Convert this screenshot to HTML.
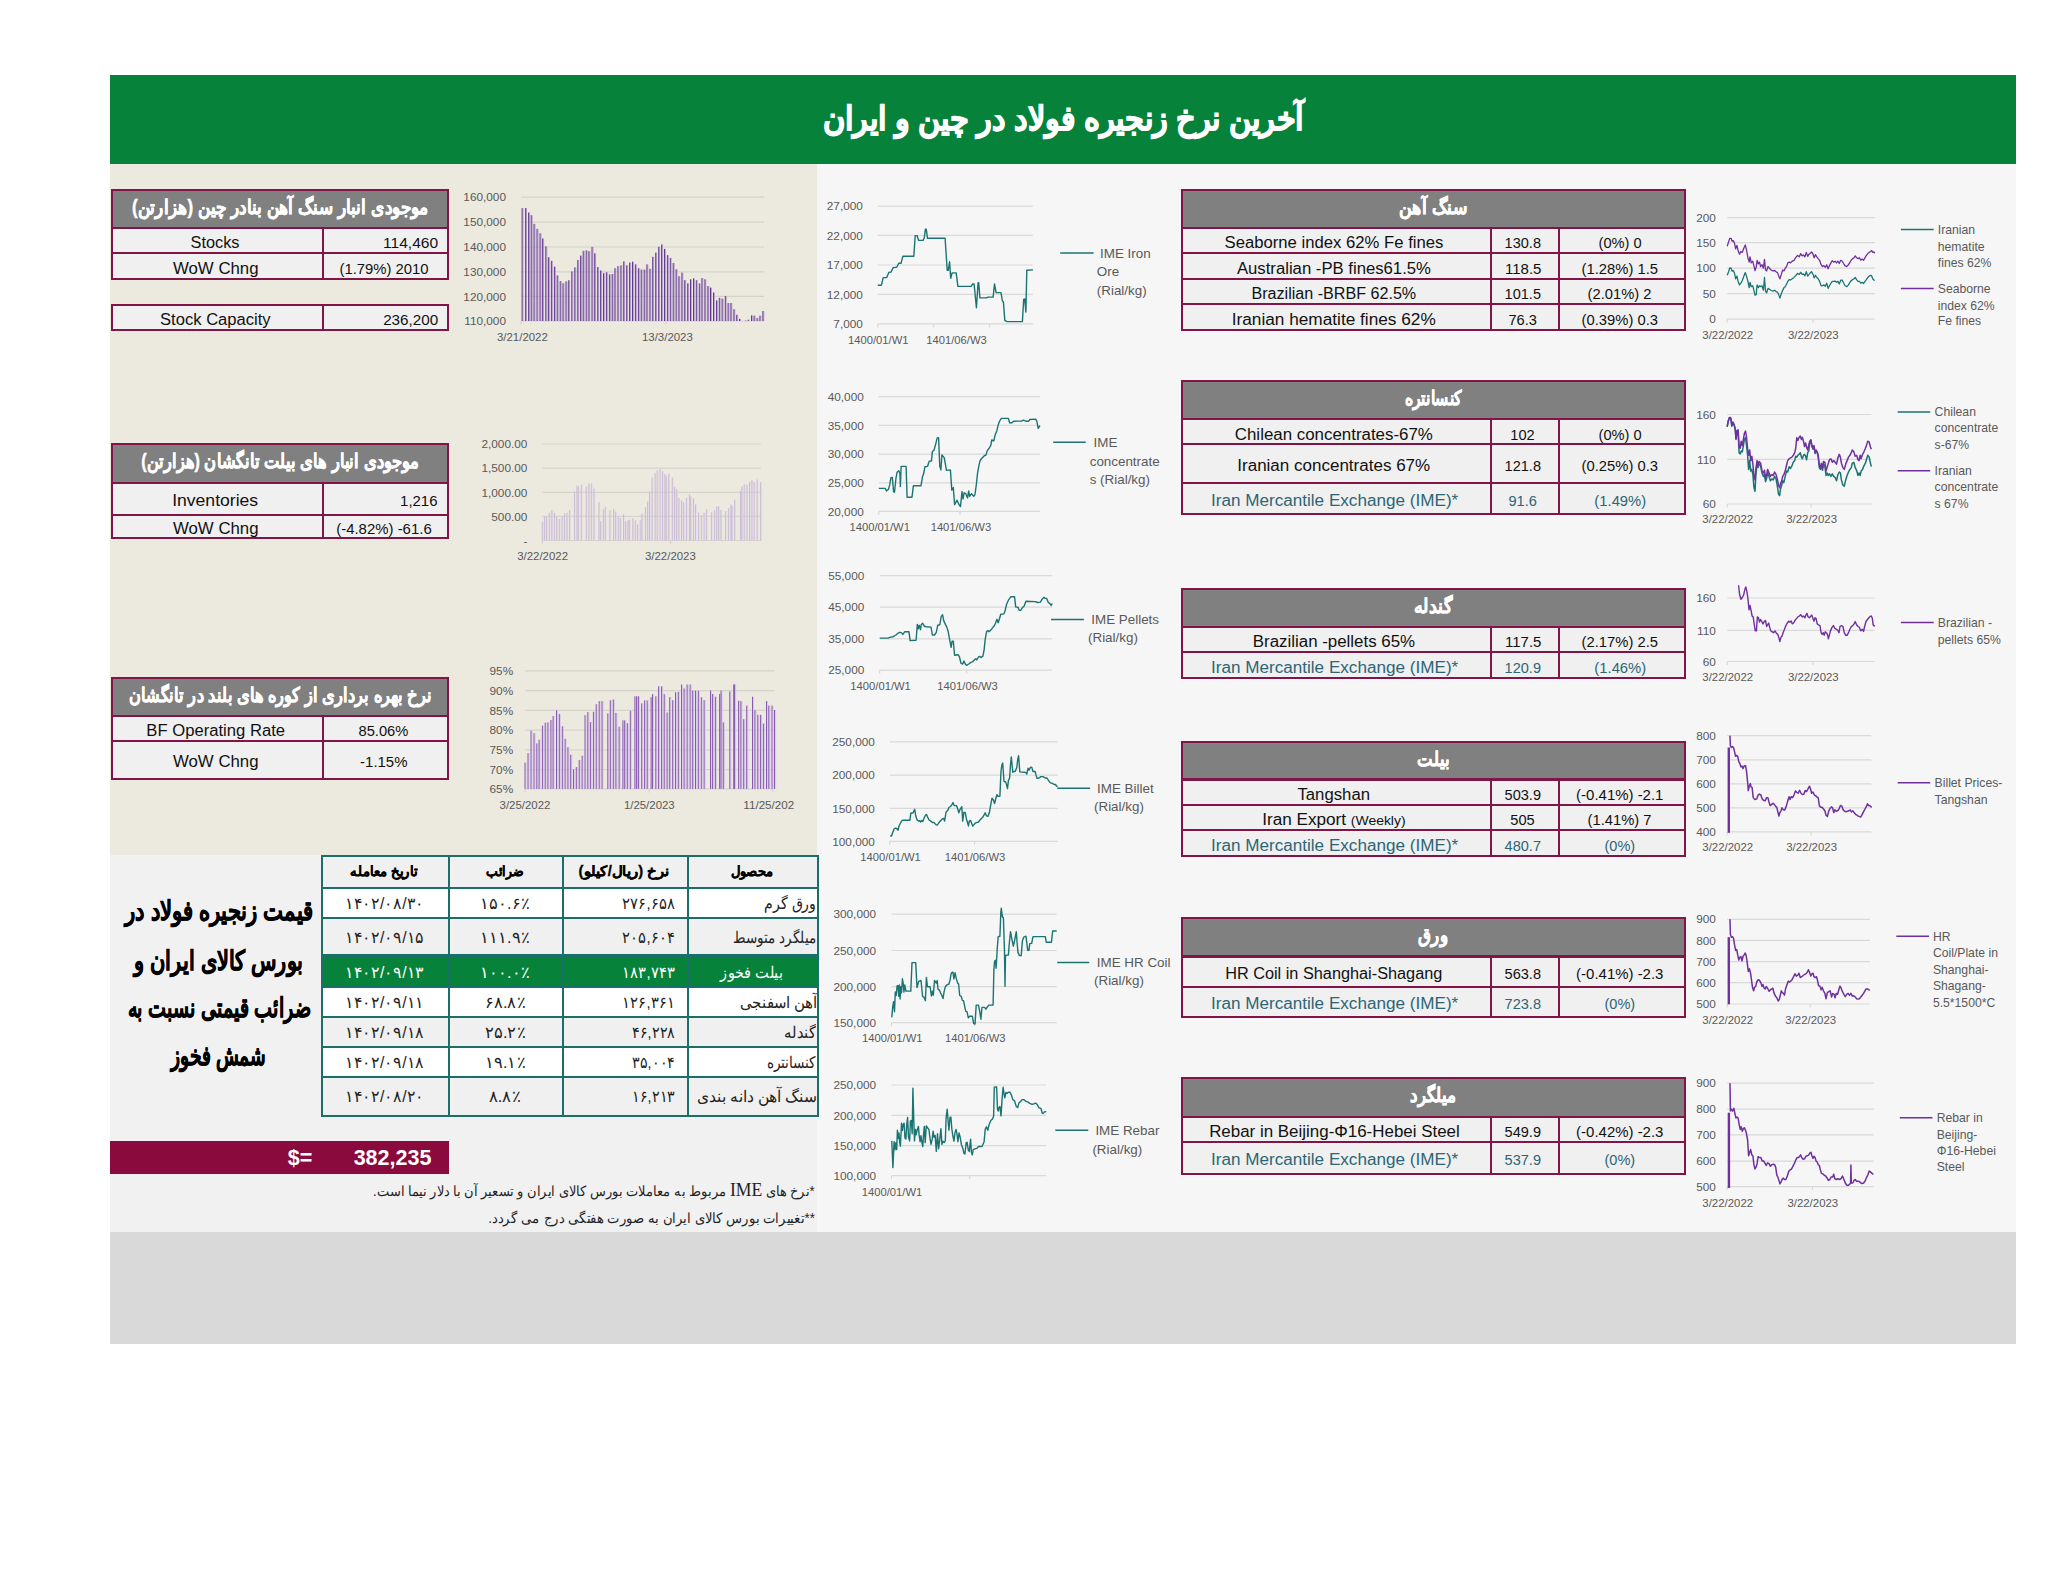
<!DOCTYPE html>
<html lang="fa"><head><meta charset="utf-8"><title>آخرین نرخ زنجیره فولاد در چین و ایران</title>
<style>
html,body{margin:0;padding:0;background:#fff;}
body{width:2048px;height:1583px;position:relative;overflow:hidden;font-family:"Liberation Sans",sans-serif;color:#111;}
#pg div{position:absolute;box-sizing:border-box;white-space:nowrap;overflow:hidden;}
#pg .c{text-align:center;font-size:16px;color:#111;padding-top:2.5px;padding-right:4px;}
#pg .r{text-align:right;font-size:16px;color:#111;padding-right:9.5px;padding-top:2.5px;}
#pg .t{color:#2d6575;}
#pg .h{text-align:center;color:#fff;font-weight:bold;font-size:20px;direction:rtl;-webkit-text-stroke:0.5px #fff;}
#pg .p{font-size:16px;direction:rtl;color:#222;padding-top:1px;}
#pg .ph{font-size:14px;font-weight:bold;direction:rtl;text-align:center;color:#000;-webkit-text-stroke:0.3px #000;padding-right:3px;}
#pg .w{color:#fff;}
svg{position:absolute;left:0;top:0;}
svg text{font-family:"Liberation Sans",sans-serif;font-size:11.8px;fill:#595959;}
svg text.lg{font-size:12.2px;}
svg text.lm{font-size:13.4px;}
</style></head><body><div id="pg">
<div style="left:110px;top:164px;width:707px;height:691px;background:#ece9df;"></div>
<div style="left:110px;top:855px;width:707px;height:377px;background:#f1f1f1;"></div>
<div style="left:817px;top:164px;width:1199px;height:1068px;background:#f6f6f6;"></div>
<div style="left:110px;top:1232px;width:1906px;height:112px;background:#d9d9d9;"></div>
<div style="left:110px;top:75px;width:1906px;height:89px;background:#06823a;"></div>
<div id="title" style="left:110px;top:75px;width:1906px;height:89px;line-height:87px;text-align:center;color:#fff;font-weight:bold;font-size:33px;-webkit-text-stroke:1.1px #fff;direction:rtl;"><span style="display:inline-block;transform-origin:center;--w:480.5;transform:scaleX(0.7775);">آخرین نرخ زنجیره فولاد در چین و ایران</span></div>
<div class="b" style="left:110.9px;top:188.6px;width:338.5px;height:91.5px;background:#821548;"></div>
<div class="h" style="left:112.9px;top:190.6px;width:334.5px;height:36.3px;line-height:33.3px;background:#808080;"><span style="display:inline-block;transform-origin:center;--w:296.5;margin:0 -70px;transform:scaleX(0.7110);">موجودی انبار سنگ آهن بنادر چین (هزارتن)</span></div>
<div class="c" style="left:112.9px;top:228.9px;width:208.9px;height:23.4px;line-height:23.4px;background:#f0f0f0;"><span style="display:inline-block;transform-origin:center;--w:49;transform:scaleX(1.0208);">Stocks</span></div>
<div class="r" style="left:323.8px;top:228.9px;width:123.6px;height:23.4px;line-height:23.4px;background:#f0f0f0;"><span style="display:inline-block;transform-origin:right;--w:55.1;font-size:15px;transform:scaleX(1.0804);">114,460</span></div>
<div class="c" style="left:112.9px;top:254.3px;width:208.9px;height:23.8px;line-height:23.8px;background:#f0f0f0;"><span style="display:inline-block;transform-origin:center;--w:85.6;transform:scaleX(1.0439);">WoW Chng</span></div>
<div class="c" style="left:323.8px;top:254.3px;width:123.6px;height:23.8px;line-height:23.8px;background:#f0f0f0;"><span style="display:inline-block;transform-origin:center;--w:89.1;font-size:15px;transform:scaleX(1.0241);">(1.79%) 2010</span></div>
<div class="b" style="left:110.9px;top:303.8px;width:338.5px;height:27.5px;background:#821548;"></div>
<div class="c" style="left:112.9px;top:305.8px;width:208.9px;height:23.5px;line-height:23.5px;background:#f0f0f0;"><span style="display:inline-block;transform-origin:center;--w:110.6;transform:scaleX(1.0336);">Stock Capacity</span></div>
<div class="r" style="left:323.8px;top:305.8px;width:123.6px;height:23.5px;line-height:23.5px;background:#f0f0f0;"><span style="display:inline-block;transform-origin:right;--w:55.1;font-size:15px;transform:scaleX(1.0596);">236,200</span></div>
<div class="b" style="left:110.9px;top:443.3px;width:338.5px;height:95.6px;background:#821548;"></div>
<div class="h" style="left:112.9px;top:445.3px;width:334.5px;height:36.4px;line-height:33.4px;background:#808080;"><span style="display:inline-block;transform-origin:center;--w:277.5;margin:0 -70px;transform:scaleX(0.6869);">موجودی انبار های بیلت تانگشان (هزارتن)</span></div>
<div class="c" style="left:112.9px;top:483.7px;width:208.9px;height:30px;line-height:30px;background:#f0f0f0;"><span style="display:inline-block;transform-origin:center;--w:86;transform:scaleX(1.1026);">Inventories</span></div>
<div class="r" style="left:323.8px;top:483.7px;width:123.6px;height:30px;line-height:30px;background:#f0f0f0;"><span style="display:inline-block;transform-origin:right;--w:37.5;font-size:15px;transform:scaleX(1.0417);">1,216</span></div>
<div class="c" style="left:112.9px;top:515.7px;width:208.9px;height:21.2px;line-height:21.2px;background:#f0f0f0;"><span style="display:inline-block;transform-origin:center;--w:85.6;transform:scaleX(1.0439);">WoW Chng</span></div>
<div class="c" style="left:323.8px;top:515.7px;width:123.6px;height:21.2px;line-height:21.2px;background:#f0f0f0;"><span style="display:inline-block;transform-origin:center;--w:95.5;font-size:15px;transform:scaleX(1.0269);">(-4.82%) -61.6</span></div>
<div class="b" style="left:110.9px;top:677.3px;width:338.5px;height:103px;background:#821548;"></div>
<div class="h" style="left:112.9px;top:679.3px;width:334.5px;height:35.8px;line-height:32.8px;background:#808080;"><span style="display:inline-block;transform-origin:center;--w:302.3;margin:0 -70px;transform:scaleX(0.6855);">نرخ بهره برداری از کوره های بلند در تانگشان</span></div>
<div class="c" style="left:112.9px;top:717.1px;width:208.9px;height:22.7px;line-height:22.7px;background:#f0f0f0;"><span style="display:inline-block;transform-origin:center;--w:138.8;transform:scaleX(1.0436);">BF Operating Rate</span></div>
<div class="c" style="left:323.8px;top:717.1px;width:123.6px;height:22.7px;line-height:22.7px;background:#f0f0f0;"><span style="display:inline-block;transform-origin:center;--w:49.9;font-size:15px;transform:scaleX(1.0184);">85.06%</span></div>
<div class="c" style="left:112.9px;top:741.8px;width:208.9px;height:36.5px;line-height:36.5px;background:#f0f0f0;"><span style="display:inline-block;transform-origin:center;--w:85.6;transform:scaleX(1.0439);">WoW Chng</span></div>
<div class="c" style="left:323.8px;top:741.8px;width:123.6px;height:36.5px;line-height:36.5px;background:#f0f0f0;"><span style="display:inline-block;transform-origin:center;--w:47.3;font-size:15px;transform:scaleX(1.0283);">-1.15%</span></div>
<div class="b" style="left:1180.7px;top:189px;width:505.2px;height:141.7px;background:#821548;"></div>
<div class="h" style="left:1182.7px;top:191px;width:501.2px;height:36.3px;line-height:33.3px;background:#808080;"><span style="display:inline-block;transform-origin:center;--w:67.9;transform:scaleX(0.7301);">سنگ آهن</span></div>
<div class="c" style="left:1182.7px;top:229.3px;width:307px;height:22.9px;line-height:22.9px;background:#f0f0f0;"><span style="display:inline-block;transform-origin:center;--w:218.8;transform:scaleX(1.0419);">Seaborne index 62% Fe fines</span></div>
<div class="c" style="left:1491.7px;top:229.3px;width:66.1px;height:22.9px;line-height:22.9px;background:#f0f0f0;"><span style="display:inline-block;transform-origin:center;--w:36.4;font-size:15px;transform:scaleX(1.0111);">130.8</span></div>
<div class="c" style="left:1559.8px;top:229.3px;width:124.1px;height:22.9px;line-height:22.9px;background:#f0f0f0;"><span style="display:inline-block;transform-origin:center;--w:43;font-size:15px;transform:scaleX(1.0000);">(0%) 0</span></div>
<div class="c" style="left:1182.7px;top:254.2px;width:307px;height:23.7px;line-height:23.7px;background:#f0f0f0;"><span style="display:inline-block;transform-origin:center;--w:194;transform:scaleX(1.0430);">Australian -PB fines61.5%</span></div>
<div class="c" style="left:1491.7px;top:254.2px;width:66.1px;height:23.7px;line-height:23.7px;background:#f0f0f0;"><span style="display:inline-block;transform-origin:center;--w:36.4;font-size:15px;transform:scaleX(1.0400);">118.5</span></div>
<div class="c" style="left:1559.8px;top:254.2px;width:124.1px;height:23.7px;line-height:23.7px;background:#f0f0f0;"><span style="display:inline-block;transform-origin:center;--w:76.4;font-size:15px;transform:scaleX(1.0187);">(1.28%) 1.5</span></div>
<div class="c" style="left:1182.7px;top:279.9px;width:307px;height:23.4px;line-height:23.4px;background:#f0f0f0;"><span style="display:inline-block;transform-origin:center;--w:164.7;transform:scaleX(0.9982);">Brazilian -BRBF 62.5%</span></div>
<div class="c" style="left:1491.7px;top:279.9px;width:66.1px;height:23.4px;line-height:23.4px;background:#f0f0f0;"><span style="display:inline-block;transform-origin:center;--w:36.4;font-size:15px;transform:scaleX(1.0111);">101.5</span></div>
<div class="c" style="left:1559.8px;top:279.9px;width:124.1px;height:23.4px;line-height:23.4px;background:#f0f0f0;"><span style="display:inline-block;transform-origin:center;--w:63.8;font-size:15px;transform:scaleX(1.0127);">(2.01%) 2</span></div>
<div class="c" style="left:1182.7px;top:305.3px;width:307px;height:23.4px;line-height:23.4px;background:#f0f0f0;"><span style="display:inline-block;transform-origin:center;--w:204.1;transform:scaleX(1.0856);">Iranian hematite fines 62%</span></div>
<div class="c" style="left:1491.7px;top:305.3px;width:66.1px;height:23.4px;line-height:23.4px;background:#f0f0f0;"><span style="display:inline-block;transform-origin:center;--w:28.4;font-size:15px;transform:scaleX(1.0125);">76.3</span></div>
<div class="c" style="left:1559.8px;top:305.3px;width:124.1px;height:23.4px;line-height:23.4px;background:#f0f0f0;"><span style="display:inline-block;transform-origin:center;--w:76.4;font-size:15px;transform:scaleX(1.0187);">(0.39%) 0.3</span></div>
<div class="b" style="left:1180.7px;top:380.4px;width:505.2px;height:134.9px;background:#821548;"></div>
<div class="h" style="left:1182.7px;top:382.4px;width:501.2px;height:35.7px;line-height:32.7px;background:#808080;"><span style="display:inline-block;transform-origin:center;--w:57.3;transform:scaleX(0.6511);">کنسانتره</span></div>
<div class="c" style="left:1182.7px;top:420.1px;width:307px;height:23.2px;line-height:23.2px;background:#f0f0f0;"><span style="display:inline-block;transform-origin:center;--w:198.1;transform:scaleX(1.0537);">Chilean concentrates-67%</span></div>
<div class="c" style="left:1491.7px;top:420.1px;width:66.1px;height:23.2px;line-height:23.2px;background:#f0f0f0;"><span style="display:inline-block;transform-origin:center;--w:24.4;font-size:15px;transform:scaleX(1.0146);">102</span></div>
<div class="c" style="left:1559.8px;top:420.1px;width:124.1px;height:23.2px;line-height:23.2px;background:#f0f0f0;"><span style="display:inline-block;transform-origin:center;--w:43;font-size:15px;transform:scaleX(1.0000);">(0%) 0</span></div>
<div class="c" style="left:1182.7px;top:445.3px;width:307px;height:36.3px;line-height:36.3px;background:#f0f0f0;"><span style="display:inline-block;transform-origin:center;--w:192.9;transform:scaleX(1.0717);">Iranian concentrates 67%</span></div>
<div class="c" style="left:1491.7px;top:445.3px;width:66.1px;height:36.3px;line-height:36.3px;background:#f0f0f0;"><span style="display:inline-block;transform-origin:center;--w:36.4;font-size:15px;transform:scaleX(1.0111);">121.8</span></div>
<div class="c" style="left:1559.8px;top:445.3px;width:124.1px;height:36.3px;line-height:36.3px;background:#f0f0f0;"><span style="display:inline-block;transform-origin:center;--w:76.4;font-size:15px;transform:scaleX(1.0187);">(0.25%) 0.3</span></div>
<div class="c t" style="left:1182.7px;top:483.6px;width:307px;height:29.7px;line-height:29.7px;background:#f0f0f0;"><span style="display:inline-block;transform-origin:center;--w:247.3;transform:scaleX(1.0799);">Iran Mercantile Exchange (IME)*</span></div>
<div class="c t" style="left:1491.7px;top:483.6px;width:66.1px;height:29.7px;line-height:29.7px;background:#f0f0f0;"><span style="display:inline-block;transform-origin:center;--w:28.4;font-size:15px;transform:scaleX(1.0125);">91.6</span></div>
<div class="c t" style="left:1559.8px;top:483.6px;width:124.1px;height:29.7px;line-height:29.7px;background:#f0f0f0;"><span style="display:inline-block;transform-origin:center;--w:51.8;font-size:15px;transform:scaleX(1.0157);">(1.49%)</span></div>
<div class="b" style="left:1180.7px;top:587.9px;width:505.2px;height:90.9px;background:#821548;"></div>
<div class="h" style="left:1182.7px;top:589.9px;width:501.2px;height:36px;line-height:33px;background:#808080;"><span style="display:inline-block;transform-origin:center;--w:38.9;transform:scaleX(0.7481);">گندله</span></div>
<div class="c" style="left:1182.7px;top:627.9px;width:307px;height:23.4px;line-height:23.4px;background:#f0f0f0;"><span style="display:inline-block;transform-origin:center;--w:162.2;transform:scaleX(1.0465);">Brazilian -pellets 65%</span></div>
<div class="c" style="left:1491.7px;top:627.9px;width:66.1px;height:23.4px;line-height:23.4px;background:#f0f0f0;"><span style="display:inline-block;transform-origin:center;--w:36.4;font-size:15px;transform:scaleX(1.0400);">117.5</span></div>
<div class="c" style="left:1559.8px;top:627.9px;width:124.1px;height:23.4px;line-height:23.4px;background:#f0f0f0;"><span style="display:inline-block;transform-origin:center;--w:76.4;font-size:15px;transform:scaleX(1.0187);">(2.17%) 2.5</span></div>
<div class="c t" style="left:1182.7px;top:653.3px;width:307px;height:23.5px;line-height:23.5px;background:#f0f0f0;"><span style="display:inline-block;transform-origin:center;--w:247.3;transform:scaleX(1.0799);">Iran Mercantile Exchange (IME)*</span></div>
<div class="c t" style="left:1491.7px;top:653.3px;width:66.1px;height:23.5px;line-height:23.5px;background:#f0f0f0;"><span style="display:inline-block;transform-origin:center;--w:36.4;font-size:15px;transform:scaleX(1.0111);">120.9</span></div>
<div class="c t" style="left:1559.8px;top:653.3px;width:124.1px;height:23.5px;line-height:23.5px;background:#f0f0f0;"><span style="display:inline-block;transform-origin:center;--w:51.8;font-size:15px;transform:scaleX(1.0157);">(1.46%)</span></div>
<div class="b" style="left:1180.7px;top:740.8px;width:505.2px;height:116.3px;background:#821548;"></div>
<div class="h" style="left:1182.7px;top:742.8px;width:501.2px;height:35.7px;line-height:32.7px;background:#808080;"><span style="display:inline-block;transform-origin:center;--w:32.1;transform:scaleX(0.7133);">بیلت</span></div>
<div class="c" style="left:1182.7px;top:780.5px;width:307px;height:23.4px;line-height:23.4px;background:#f0f0f0;"><span style="display:inline-block;transform-origin:center;--w:72.6;transform:scaleX(1.0371);">Tangshan</span></div>
<div class="c" style="left:1491.7px;top:780.5px;width:66.1px;height:23.4px;line-height:23.4px;background:#f0f0f0;"><span style="display:inline-block;transform-origin:center;--w:36.4;font-size:15px;transform:scaleX(1.0111);">503.9</span></div>
<div class="c" style="left:1559.8px;top:780.5px;width:124.1px;height:23.4px;line-height:23.4px;background:#f0f0f0;"><span style="display:inline-block;transform-origin:center;--w:87.3;font-size:15px;transform:scaleX(1.0271);">(-0.41%) -2.1</span></div>
<div class="c" style="left:1182.7px;top:805.9px;width:307px;height:23.4px;line-height:23.4px;background:#f0f0f0;"><span style="display:inline-block;transform-origin:center;--w:143.4;transform:scaleX(1.0864);">Iran Export <span style="font-size:13px">(Weekly)</span></span></div>
<div class="c" style="left:1491.7px;top:805.9px;width:66.1px;height:23.4px;line-height:23.4px;background:#f0f0f0;"><span style="display:inline-block;transform-origin:center;--w:24.4;font-size:15px;transform:scaleX(1.0146);">505</span></div>
<div class="c" style="left:1559.8px;top:805.9px;width:124.1px;height:23.4px;line-height:23.4px;background:#f0f0f0;"><span style="display:inline-block;transform-origin:center;--w:63.8;font-size:15px;transform:scaleX(1.0127);">(1.41%) 7</span></div>
<div class="c t" style="left:1182.7px;top:831.3px;width:307px;height:23.8px;line-height:23.8px;background:#f0f0f0;"><span style="display:inline-block;transform-origin:center;--w:247.3;transform:scaleX(1.0799);">Iran Mercantile Exchange (IME)*</span></div>
<div class="c t" style="left:1491.7px;top:831.3px;width:66.1px;height:23.8px;line-height:23.8px;background:#f0f0f0;"><span style="display:inline-block;transform-origin:center;--w:36.4;font-size:15px;transform:scaleX(1.0111);">480.7</span></div>
<div class="c t" style="left:1559.8px;top:831.3px;width:124.1px;height:23.8px;line-height:23.8px;background:#f0f0f0;"><span style="display:inline-block;transform-origin:center;--w:30.7;font-size:15px;transform:scaleX(0.9903);">(0%)</span></div>
<div class="b" style="left:1180.7px;top:917.2px;width:505.2px;height:101.3px;background:#821548;"></div>
<div class="h" style="left:1182.7px;top:919.2px;width:501.2px;height:36.3px;line-height:33.3px;background:#808080;"><span style="display:inline-block;transform-origin:center;--w:30.2;transform:scaleX(0.7190);">ورق</span></div>
<div class="c" style="left:1182.7px;top:957.5px;width:307px;height:28.3px;line-height:28.3px;background:#f0f0f0;"><span style="display:inline-block;transform-origin:center;--w:217.2;transform:scaleX(1.0009);">HR Coil in Shanghai-Shagang</span></div>
<div class="c" style="left:1491.7px;top:957.5px;width:66.1px;height:28.3px;line-height:28.3px;background:#f0f0f0;"><span style="display:inline-block;transform-origin:center;--w:36.4;font-size:15px;transform:scaleX(1.0111);">563.8</span></div>
<div class="c" style="left:1559.8px;top:957.5px;width:124.1px;height:28.3px;line-height:28.3px;background:#f0f0f0;"><span style="display:inline-block;transform-origin:center;--w:87.3;font-size:15px;transform:scaleX(1.0271);">(-0.41%) -2.3</span></div>
<div class="c t" style="left:1182.7px;top:987.8px;width:307px;height:28.7px;line-height:28.7px;background:#f0f0f0;"><span style="display:inline-block;transform-origin:center;--w:247.3;transform:scaleX(1.0799);">Iran Mercantile Exchange (IME)*</span></div>
<div class="c t" style="left:1491.7px;top:987.8px;width:66.1px;height:28.7px;line-height:28.7px;background:#f0f0f0;"><span style="display:inline-block;transform-origin:center;--w:36.4;font-size:15px;transform:scaleX(1.0111);">723.8</span></div>
<div class="c t" style="left:1559.8px;top:987.8px;width:124.1px;height:28.7px;line-height:28.7px;background:#f0f0f0;"><span style="display:inline-block;transform-origin:center;--w:30.7;font-size:15px;transform:scaleX(0.9903);">(0%)</span></div>
<div class="b" style="left:1180.7px;top:1077.4px;width:505.2px;height:97.5px;background:#821548;"></div>
<div class="h" style="left:1182.7px;top:1079.4px;width:501.2px;height:36.3px;line-height:33.3px;background:#808080;"><span style="display:inline-block;transform-origin:center;--w:46.1;transform:scaleX(0.7435);">میلگرد</span></div>
<div class="c" style="left:1182.7px;top:1117.7px;width:307px;height:23.2px;line-height:23.2px;background:#f0f0f0;"><span style="display:inline-block;transform-origin:center;--w:250.6;transform:scaleX(1.0442);">Rebar in Beijing-Φ16-Hebei Steel</span></div>
<div class="c" style="left:1491.7px;top:1117.7px;width:66.1px;height:23.2px;line-height:23.2px;background:#f0f0f0;"><span style="display:inline-block;transform-origin:center;--w:36.4;font-size:15px;transform:scaleX(1.0111);">549.9</span></div>
<div class="c" style="left:1559.8px;top:1117.7px;width:124.1px;height:23.2px;line-height:23.2px;background:#f0f0f0;"><span style="display:inline-block;transform-origin:center;--w:87.3;font-size:15px;transform:scaleX(1.0271);">(-0.42%) -2.3</span></div>
<div class="c t" style="left:1182.7px;top:1142.9px;width:307px;height:30px;line-height:30px;background:#f0f0f0;"><span style="display:inline-block;transform-origin:center;--w:247.3;transform:scaleX(1.0799);">Iran Mercantile Exchange (IME)*</span></div>
<div class="c t" style="left:1491.7px;top:1142.9px;width:66.1px;height:30px;line-height:30px;background:#f0f0f0;"><span style="display:inline-block;transform-origin:center;--w:36.4;font-size:15px;transform:scaleX(1.0111);">537.9</span></div>
<div class="c t" style="left:1559.8px;top:1142.9px;width:124.1px;height:30px;line-height:30px;background:#f0f0f0;"><span style="display:inline-block;transform-origin:center;--w:30.7;font-size:15px;transform:scaleX(0.9903);">(0%)</span></div>
<div class="b" style="left:321.3px;top:854.9px;width:497.5px;height:262.3px;background:#1b6f6a;"></div>
<div class="ph" style="left:323.3px;top:856.9px;width:124.5px;height:29.8px;line-height:29.8px;background:#f0f0f0;"><span style="display:inline-block;transform-origin:center;--w:67;transform:scaleX(0.8171);">تاریخ معامله</span></div>
<div class="ph" style="left:449.8px;top:856.9px;width:112.5px;height:29.8px;line-height:29.8px;background:#f0f0f0;"><span style="display:inline-block;transform-origin:center;--w:37.3;transform:scaleX(0.7771);">ضرائب</span></div>
<div class="ph" style="left:564.3px;top:856.9px;width:123px;height:29.8px;line-height:29.8px;background:#f0f0f0;"><span style="display:inline-block;transform-origin:center;--w:90.9;transform:scaleX(0.9000);">نرخ (ریال/کیلو)</span></div>
<div class="ph" style="left:689.3px;top:856.9px;width:127.5px;height:29.8px;line-height:29.8px;background:#f0f0f0;"><span style="display:inline-block;transform-origin:center;--w:42.9;transform:scaleX(0.7944);">محصول</span></div>
<div class="p" style="left:323.3px;top:888.7px;width:124.5px;height:28.2px;line-height:28.2px;background:#ffffff;text-align:center;padding-right:3px;"><span style="display:inline-block;transform-origin:center;--w:79.5;transform:scaleX(0.9938);">۱۴۰۲/۰۸/۳۰</span></div>
<div class="p" style="left:449.8px;top:888.7px;width:112.5px;height:28.2px;line-height:28.2px;background:#ffffff;text-align:center;padding-right:2px;"><span style="display:inline-block;transform-origin:center;--w:50.2;transform:scaleX(1.0245);">۱۵۰.۶٪</span></div>
<div class="p" style="left:564.3px;top:888.7px;width:123px;height:28.2px;line-height:28.2px;background:#ffffff;text-align:right;padding-right:12px;"><span style="display:inline-block;transform-origin:right;--w:53.8;transform:scaleX(0.9276);">۲۷۶,۶۵۸</span></div>
<div class="p" style="left:689.3px;top:888.7px;width:127.5px;height:28.2px;line-height:28.2px;background:#ffffff;text-align:right;padding-right:0.5px;"><span style="display:inline-block;transform-origin:right;--w:52.5;transform:scaleX(0.8898);">ورق گرم</span></div>
<div class="p" style="left:323.3px;top:918.9px;width:124.5px;height:35.6px;line-height:35.6px;background:#f0f0f0;text-align:center;padding-right:3px;"><span style="display:inline-block;transform-origin:center;--w:79.5;transform:scaleX(0.9938);">۱۴۰۲/۰۹/۱۵</span></div>
<div class="p" style="left:449.8px;top:918.9px;width:112.5px;height:35.6px;line-height:35.6px;background:#f0f0f0;text-align:center;padding-right:2px;"><span style="display:inline-block;transform-origin:center;--w:50.2;transform:scaleX(1.0245);">۱۱۱.۹٪</span></div>
<div class="p" style="left:564.3px;top:918.9px;width:123px;height:35.6px;line-height:35.6px;background:#f0f0f0;text-align:right;padding-right:12px;"><span style="display:inline-block;transform-origin:right;--w:53.8;transform:scaleX(0.9276);">۲۰۵,۶۰۴</span></div>
<div class="p" style="left:689.3px;top:918.9px;width:127.5px;height:35.6px;line-height:35.6px;background:#f0f0f0;text-align:right;padding-right:0.5px;"><span style="display:inline-block;transform-origin:right;--w:83;transform:scaleX(0.8469);">میلگرد متوسط</span></div>
<div class="p w" style="left:323.3px;top:956.5px;width:124.5px;height:29.7px;line-height:29.7px;background:#06823a;text-align:center;padding-right:3px;"><span style="display:inline-block;transform-origin:center;--w:79.5;transform:scaleX(0.9938);">۱۴۰۲/۰۹/۱۳</span></div>
<div class="p w" style="left:449.8px;top:956.5px;width:112.5px;height:29.7px;line-height:29.7px;background:#06823a;text-align:center;padding-right:2px;"><span style="display:inline-block;transform-origin:center;--w:50.2;transform:scaleX(1.0245);">۱۰۰.۰٪</span></div>
<div class="p w" style="left:564.3px;top:956.5px;width:123px;height:29.7px;line-height:29.7px;background:#06823a;text-align:right;padding-right:12px;"><span style="display:inline-block;transform-origin:right;--w:53.8;transform:scaleX(0.9276);">۱۸۳,۷۴۳</span></div>
<div class="p w" style="left:689.3px;top:956.5px;width:127.5px;height:29.7px;line-height:29.7px;background:#06823a;text-align:center;padding-right:4px;"><span style="display:inline-block;transform-origin:center;--w:61.9;transform:scaleX(0.9103);">بیلت فخوز</span></div>
<div class="p" style="left:323.3px;top:988.2px;width:124.5px;height:27.7px;line-height:27.7px;background:#ffffff;text-align:center;padding-right:3px;"><span style="display:inline-block;transform-origin:center;--w:79.5;transform:scaleX(0.9938);">۱۴۰۲/۰۹/۱۱</span></div>
<div class="p" style="left:449.8px;top:988.2px;width:112.5px;height:27.7px;line-height:27.7px;background:#ffffff;text-align:center;padding-right:2px;"><span style="display:inline-block;transform-origin:center;--w:41.2;transform:scaleX(1.0300);">۶۸.۸٪</span></div>
<div class="p" style="left:564.3px;top:988.2px;width:123px;height:27.7px;line-height:27.7px;background:#ffffff;text-align:right;padding-right:12px;"><span style="display:inline-block;transform-origin:right;--w:53.8;transform:scaleX(0.9276);">۱۲۶,۳۶۱</span></div>
<div class="p" style="left:689.3px;top:988.2px;width:127.5px;height:27.7px;line-height:27.7px;background:#ffffff;text-align:right;padding-right:0.5px;"><span style="display:inline-block;transform-origin:right;--w:76.1;transform:scaleX(0.9395);">آهن اسفنجی</span></div>
<div class="p" style="left:323.3px;top:1017.9px;width:124.5px;height:28.5px;line-height:28.5px;background:#f0f0f0;text-align:center;padding-right:3px;"><span style="display:inline-block;transform-origin:center;--w:79.5;transform:scaleX(0.9938);">۱۴۰۲/۰۹/۱۸</span></div>
<div class="p" style="left:449.8px;top:1017.9px;width:112.5px;height:28.5px;line-height:28.5px;background:#f0f0f0;text-align:center;padding-right:2px;"><span style="display:inline-block;transform-origin:center;--w:41.2;transform:scaleX(1.0300);">۲۵.۲٪</span></div>
<div class="p" style="left:564.3px;top:1017.9px;width:123px;height:28.5px;line-height:28.5px;background:#f0f0f0;text-align:right;padding-right:12px;"><span style="display:inline-block;transform-origin:right;--w:43.8;transform:scaleX(0.8939);">۴۶,۲۲۸</span></div>
<div class="p" style="left:689.3px;top:1017.9px;width:127.5px;height:28.5px;line-height:28.5px;background:#f0f0f0;text-align:right;padding-right:0.5px;"><span style="display:inline-block;transform-origin:right;--w:32.1;transform:scaleX(0.9171);">گندله</span></div>
<div class="p" style="left:323.3px;top:1048.4px;width:124.5px;height:27.9px;line-height:27.9px;background:#ffffff;text-align:center;padding-right:3px;"><span style="display:inline-block;transform-origin:center;--w:79.5;transform:scaleX(0.9938);">۱۴۰۲/۰۹/۱۸</span></div>
<div class="p" style="left:449.8px;top:1048.4px;width:112.5px;height:27.9px;line-height:27.9px;background:#ffffff;text-align:center;padding-right:2px;"><span style="display:inline-block;transform-origin:center;--w:41.2;transform:scaleX(1.0300);">۱۹.۱٪</span></div>
<div class="p" style="left:564.3px;top:1048.4px;width:123px;height:27.9px;line-height:27.9px;background:#ffffff;text-align:right;padding-right:12px;"><span style="display:inline-block;transform-origin:right;--w:43.8;transform:scaleX(0.8939);">۳۵,۰۰۴</span></div>
<div class="p" style="left:689.3px;top:1048.4px;width:127.5px;height:27.9px;line-height:27.9px;background:#ffffff;text-align:right;padding-right:0.5px;"><span style="display:inline-block;transform-origin:right;--w:49.2;transform:scaleX(0.8483);">کنسانتره</span></div>
<div class="p" style="left:323.3px;top:1078.3px;width:124.5px;height:36.9px;line-height:36.9px;background:#f0f0f0;text-align:center;padding-right:3px;"><span style="display:inline-block;transform-origin:center;--w:79.5;transform:scaleX(0.9938);">۱۴۰۲/۰۸/۲۰</span></div>
<div class="p" style="left:449.8px;top:1078.3px;width:112.5px;height:36.9px;line-height:36.9px;background:#f0f0f0;text-align:center;padding-right:2px;"><span style="display:inline-block;transform-origin:center;--w:32.4;transform:scaleX(1.0452);">۸.۸٪</span></div>
<div class="p" style="left:564.3px;top:1078.3px;width:123px;height:36.9px;line-height:36.9px;background:#f0f0f0;text-align:right;padding-right:12px;"><span style="display:inline-block;transform-origin:right;--w:43.8;transform:scaleX(0.8939);">۱۶,۲۱۳</span></div>
<div class="p" style="left:689.3px;top:1078.3px;width:127.5px;height:36.9px;line-height:36.9px;background:#f0f0f0;text-align:right;padding-right:0.5px;"><span style="display:inline-block;transform-origin:right;--w:119.7;transform:scaleX(0.9811);">سنگ آهن دانه بندی</span></div>
<div class="big" style="left:115px;top:885.8px;width:208px;height:52px;line-height:50px;text-align:center;direction:rtl;font-weight:bold;font-size:27px;-webkit-text-stroke:0.6px #000;color:#000;"><span style="display:inline-block;transform-origin:center;--w:188.3;margin:0 -70px;transform:scaleX(0.6538);">قیمت  زنجیره فولاد در</span></div>
<div class="big" style="left:115px;top:936.3px;width:208px;height:52px;line-height:50px;text-align:center;direction:rtl;font-weight:bold;font-size:27px;-webkit-text-stroke:0.6px #000;color:#000;"><span style="display:inline-block;transform-origin:center;--w:169.5;margin:0 -70px;transform:scaleX(0.6519);">بورس کالای ایران و</span></div>
<div class="big" style="left:115px;top:982.7px;width:208px;height:52px;line-height:50px;text-align:center;direction:rtl;font-weight:bold;font-size:27px;-webkit-text-stroke:0.6px #000;color:#000;"><span style="display:inline-block;transform-origin:center;--w:183.5;margin:0 -70px;transform:scaleX(0.6056);">ضرائب قیمتی نسبت به</span></div>
<div class="big" style="left:115px;top:1030.7px;width:208px;height:52px;line-height:50px;text-align:center;direction:rtl;font-weight:bold;font-size:27px;-webkit-text-stroke:0.6px #000;color:#000;"><span style="display:inline-block;transform-origin:center;--w:95.1;margin:0 -70px;transform:scaleX(0.5907);">شمش فخوز</span></div>
<div style="left:110px;top:1141px;width:339px;height:33px;background:#8a0a3e;"></div>
<div style="left:280px;top:1141px;width:40px;height:33px;line-height:34px;color:#fff;font-weight:bold;font-size:21.5px;text-align:center;">$=</div>
<div style="left:340px;top:1141px;width:105px;height:33px;line-height:34px;color:#fff;font-weight:bold;font-size:21.5px;text-align:center;">382,235</div>
<div class="fn" style="left:300px;top:1177px;width:515px;height:28px;line-height:26px;direction:rtl;text-align:right;font-size:14px;color:#222;"><span style="display:inline-block;transform-origin:right;--w:441.5;transform:scaleX(0.9256);">*نرخ های <span style="font-family:'Liberation Serif',serif;font-size:19px">IME</span> مربوط به معاملات بورس کالای ایران و تسعیر آن با دلار نیما است.</span></div>
<div class="fn" style="left:300px;top:1206px;width:515px;height:26px;line-height:25px;direction:rtl;text-align:right;font-size:14px;color:#222;"><span style="display:inline-block;transform-origin:right;--w:326.5;transform:scaleX(0.9409);">**تغییرات بورس کالای ایران به صورت هفتگی درج می گردد.</span></div>
<svg width="2048" height="1583" viewBox="0 0 2048 1583">
<line x1="521.2" x2="764.1" y1="197.2" y2="197.2" stroke="#d6d3cd" stroke-width="1.2"/>
<text x="506" y="201.4" text-anchor="end">160,000</text>
<line x1="521.2" x2="764.1" y1="222.2" y2="222.2" stroke="#d6d3cd" stroke-width="1.2"/>
<text x="506" y="226.4" text-anchor="end">150,000</text>
<line x1="521.2" x2="764.1" y1="247" y2="247" stroke="#d6d3cd" stroke-width="1.2"/>
<text x="506" y="251.2" text-anchor="end">140,000</text>
<line x1="521.2" x2="764.1" y1="271.8" y2="271.8" stroke="#d6d3cd" stroke-width="1.2"/>
<text x="506" y="275.9" text-anchor="end">130,000</text>
<line x1="521.2" x2="764.1" y1="296.4" y2="296.4" stroke="#d6d3cd" stroke-width="1.2"/>
<text x="506" y="300.6" text-anchor="end">120,000</text>
<line x1="521.2" x2="764.1" y1="321" y2="321" stroke="#d6d3cd" stroke-width="1.2"/>
<text x="506" y="325.2" text-anchor="end">110,000</text>
<path d="M523 321V208.1M526.5 321V208.1M529.5 321V212.5M532.2 321V215.2M535 321V223.9M538 321V228.9M541 321V233.3M543.6 321V238.5M546.8 321V246.4M549.4 321V257.3M552.4 321V260.9M555.4 321V266.7M558.2 321V275.4M561.2 321V281.1M564 321V283.2M567 321V281.4M569.6 321V280.2M572.8 321V271.4M575.8 321V267.4M578.7 321V260M581.6 321V255.6M584.2 321V250.8M587.2 321V250.3M589.8 321V251.2M593 321V246.8M595.6 321V253.3M598.6 321V267M601.6 321V270.5M604.4 321V273.2M607.4 321V272.3M610.4 321V274.4M613.2 321V274M615.8 321V268.2M618.8 321V266.1M621.8 321V265.3M624.6 321V261.4M627.6 321V265.3M630.6 321V262.6M633.4 321V261.7M636.4 321V264.4M639.4 321V268.2M642.2 321V269.6M645.2 321V269.6M647.8 321V264.4M650.8 321V268.8M653.6 321V256.8M656.6 321V252.6M659.6 321V246.8M662.6 321V244.5M665.4 321V248.9M668.4 321V255.1M671.2 321V257.9M674.2 321V263M677 321V269.3M679.8 321V276.2M682.8 321V272.6M685.6 321V280.2M688.6 321V283.4M691.4 321V279.3M694.4 321V278.4M697.2 321V280.2M700.2 321V283.4M702.8 321V278.1M705.8 321V279.3M708.8 321V286M711.5 321V287.6M714.4 321V292.5M717.4 321V300.4M720.2 321V297.8M723.1 321V298.7M726.2 321V296M729 321V303M731.8 321V303M734.8 321V309.2M737.6 321V314.8M740.5 321V318.9M746.3 321V320.6M749.1 321V319.7M752.4 321V315.4M755.1 321V315.7M758 321V318M760.9 321V315.7M763.8 321V311" stroke="#b9a2d0" stroke-width="1.0" fill="none"/>
<path d="M522.1 321V208.1M525.6 321V208.1M528.6 321V212.5M531.2 321V215.2M534 321V223.9M537 321V228.9M540 321V233.3M542.6 321V238.5M545.8 321V246.4M548.4 321V257.3M551.4 321V260.9M554.4 321V266.7M557.2 321V275.4M560.2 321V281.1M563 321V283.2M566 321V281.4M568.7 321V280.2M571.8 321V271.4M574.8 321V267.4M577.8 321V260M580.6 321V255.6M583.2 321V250.8M586.2 321V250.3M588.9 321V251.2M592 321V246.8M594.7 321V253.3M597.7 321V267M600.6 321V270.5M603.5 321V273.2M606.4 321V272.3M609.4 321V274.4M612.2 321V274M614.9 321V268.2M617.9 321V266.1M620.9 321V265.3M623.7 321V261.4M626.7 321V265.3M629.6 321V262.6M632.5 321V261.7M635.4 321V264.4M638.4 321V268.2M641.2 321V269.6M644.2 321V269.6M646.9 321V264.4M649.9 321V268.8M652.7 321V256.8M655.7 321V252.6M658.7 321V246.8M661.6 321V244.5M664.5 321V248.9M667.4 321V255.1M670.3 321V257.9M673.2 321V263M676.1 321V269.3M678.9 321V276.2M681.9 321V272.6M684.7 321V280.2M687.7 321V283.4M690.5 321V279.3M693.5 321V278.4M696.3 321V280.2M699.3 321V283.4M701.9 321V278.1M704.9 321V279.3M707.9 321V286M710.5 321V287.6M713.5 321V292.5M716.5 321V300.4M719.3 321V297.8M722.1 321V298.7M725.3 321V296M728.1 321V303M730.9 321V303M733.9 321V309.2M736.7 321V314.8M739.5 321V318.9M745.3 321V320.6M748.1 321V319.7M751.5 321V315.4M754.1 321V315.7M757.1 321V318M759.9 321V315.7M762.9 321V311" stroke="#633a92" stroke-width="1.0" fill="none"/>
<line x1="521.2" x2="521.2" y1="321" y2="324.5" stroke="#d6d3cd" stroke-width="1.2"/>
<line x1="665.9" x2="665.9" y1="321" y2="324.5" stroke="#d6d3cd" stroke-width="1.2"/>
<text x="522.4" y="340.6" text-anchor="middle" textLength="50.8" lengthAdjust="spacingAndGlyphs">3/21/2022</text>
<text x="667.4" y="340.6" text-anchor="middle" textLength="50.8" lengthAdjust="spacingAndGlyphs">13/3/2023</text>
<line x1="542.3" x2="760.9" y1="444" y2="444" stroke="#d6d3cd" stroke-width="1.2"/>
<text x="527.4" y="448.2" text-anchor="end">2,000.00</text>
<line x1="542.3" x2="760.9" y1="468.1" y2="468.1" stroke="#d6d3cd" stroke-width="1.2"/>
<text x="527.4" y="472.3" text-anchor="end">1,500.00</text>
<line x1="542.3" x2="760.9" y1="492.3" y2="492.3" stroke="#d6d3cd" stroke-width="1.2"/>
<text x="527.4" y="496.5" text-anchor="end">1,000.00</text>
<line x1="542.3" x2="760.9" y1="516.4" y2="516.4" stroke="#d6d3cd" stroke-width="1.2"/>
<text x="527.4" y="520.6" text-anchor="end">500.00</text>
<line x1="542.3" x2="760.9" y1="540.5" y2="540.5" stroke="#d6d3cd" stroke-width="1.2"/>
<text x="527.4" y="544.7" text-anchor="end">-</text>
<path d="M543.1 540.5V521.7M545.2 540.5V516.4M547.3 540.5V516.4M550.1 540.5V512.9M552.6 540.5V510.3M555.2 540.5V512.9M557.5 540.5V516.4M560.1 540.5V519M562.8 540.5V516.4M565.2 540.5V513.4M567.7 540.5V512.9M570.3 540.5V509.9M575.2 540.5V491.4M577.7 540.5V485.6M579.1 540.5V486.5M582.1 540.5V484.8M587 540.5V486.5M589.6 540.5V483.4M592.1 540.5V483.4M594.7 540.5V488.6M599.7 540.5V502.3M601.4 540.5V521.3M604.1 540.5V509M606 540.5V506.7M610.6 540.5V510.3M614.3 540.5V509M616.4 540.5V511.5M619 540.5V516.1M621.1 540.5V518.2M624.3 540.5V514.3M626.4 540.5V521.3M628.7 540.5V520.4M630.1 540.5V519.9M633.6 540.5V518.2M636.1 540.5V520.4M638.3 540.5V524.3M641 540.5V520.4M642.7 540.5V513.4M646.2 540.5V507.1M648.4 540.5V501.5M650.3 540.5V492.3M652.8 540.5V477.7M655.9 540.5V473M658 540.5V470.2M660.8 540.5V468.9M663.3 540.5V471.2M665.6 540.5V474.2M667 540.5V476M669.5 540.5V473.7M673.1 540.5V477.7M675.3 540.5V486.9M677.4 540.5V489.2M679.6 540.5V497.9M682.3 540.5V500.2M684.4 540.5V502.3M687.2 540.5V497.9M690.2 540.5V494.4M691.4 540.5V496.7M694.2 540.5V498.5M696.3 540.5V504.5M699.3 540.5V512.4M702.1 540.5V515M704.8 540.5V512.9M707.2 540.5V509.4M712.2 540.5V512.4M715.2 540.5V510.3M717.4 540.5V506.4M719.4 540.5V506.4M721.7 540.5V509.9M726.2 540.5V511.1M729.2 540.5V508.1M731.7 540.5V504.5M732.7 540.5V506.2M735.4 540.5V499.7M741.2 540.5V490.9M742.6 540.5V486.5M745 540.5V484.2M747.7 540.5V484.8M750.3 540.5V482.1M752.6 540.5V480M754.9 540.5V482.1M757.9 540.5V479.5M761.4 540.5V482.1" stroke="#e2d9e6" stroke-width="0.9" fill="none"/>
<path d="M542.3 540.5V521.7M544.4 540.5V516.4M546.5 540.5V516.4M549.3 540.5V512.9M551.8 540.5V510.3M554.4 540.5V512.9M556.7 540.5V516.4M559.3 540.5V519M562 540.5V516.4M564.4 540.5V513.4M566.9 540.5V512.9M569.5 540.5V509.9M574.4 540.5V491.4M576.9 540.5V485.6M578.3 540.5V486.5M581.3 540.5V484.8M586.2 540.5V486.5M588.8 540.5V483.4M591.3 540.5V483.4M593.9 540.5V488.6M598.9 540.5V502.3M600.6 540.5V521.3M603.3 540.5V509M605.2 540.5V506.7M609.8 540.5V510.3M613.5 540.5V509M615.6 540.5V511.5M618.2 540.5V516.1M620.3 540.5V518.2M623.5 540.5V514.3M625.6 540.5V521.3M627.9 540.5V520.4M629.3 540.5V519.9M632.8 540.5V518.2M635.3 540.5V520.4M637.5 540.5V524.3M640.2 540.5V520.4M641.9 540.5V513.4M645.4 540.5V507.1M647.6 540.5V501.5M649.5 540.5V492.3M652 540.5V477.7M655.1 540.5V473M657.2 540.5V470.2M660 540.5V468.9M662.5 540.5V471.2M664.8 540.5V474.2M666.2 540.5V476M668.7 540.5V473.7M672.3 540.5V477.7M674.5 540.5V486.9M676.6 540.5V489.2M678.8 540.5V497.9M681.5 540.5V500.2M683.6 540.5V502.3M686.4 540.5V497.9M689.4 540.5V494.4M690.6 540.5V496.7M693.4 540.5V498.5M695.5 540.5V504.5M698.5 540.5V512.4M701.3 540.5V515M704 540.5V512.9M706.4 540.5V509.4M711.4 540.5V512.4M714.4 540.5V510.3M716.6 540.5V506.4M718.6 540.5V506.4M720.9 540.5V509.9M725.4 540.5V511.1M728.4 540.5V508.1M730.9 540.5V504.5M731.9 540.5V506.2M734.6 540.5V499.7M740.4 540.5V490.9M741.8 540.5V486.5M744.2 540.5V484.2M746.9 540.5V484.8M749.5 540.5V482.1M751.8 540.5V480M754.1 540.5V482.1M757.1 540.5V479.5M760.6 540.5V482.1" stroke="#c2b2d2" stroke-width="0.8" fill="none"/>
<line x1="542.3" x2="542.3" y1="540.5" y2="544" stroke="#d6d3cd" stroke-width="1.2"/>
<line x1="670.4" x2="670.4" y1="540.5" y2="544" stroke="#d6d3cd" stroke-width="1.2"/>
<text x="542.6" y="560.1" text-anchor="middle" textLength="50.8" lengthAdjust="spacingAndGlyphs">3/22/2022</text>
<text x="670.4" y="560.1" text-anchor="middle" textLength="50.8" lengthAdjust="spacingAndGlyphs">3/22/2023</text>
<line x1="525" x2="774.6" y1="670.8" y2="670.8" stroke="#d6d3cd" stroke-width="1.2"/>
<text x="513.2" y="675" text-anchor="end">95%</text>
<line x1="525" x2="774.6" y1="690.7" y2="690.7" stroke="#d6d3cd" stroke-width="1.2"/>
<text x="513.2" y="694.9" text-anchor="end">90%</text>
<line x1="525" x2="774.6" y1="710.4" y2="710.4" stroke="#d6d3cd" stroke-width="1.2"/>
<text x="513.2" y="714.6" text-anchor="end">85%</text>
<line x1="525" x2="774.6" y1="730.2" y2="730.2" stroke="#d6d3cd" stroke-width="1.2"/>
<text x="513.2" y="734.4" text-anchor="end">80%</text>
<line x1="525" x2="774.6" y1="749.9" y2="749.9" stroke="#d6d3cd" stroke-width="1.2"/>
<text x="513.2" y="754.1" text-anchor="end">75%</text>
<line x1="525" x2="774.6" y1="769.6" y2="769.6" stroke="#d6d3cd" stroke-width="1.2"/>
<text x="513.2" y="773.8" text-anchor="end">70%</text>
<line x1="525" x2="774.6" y1="788.9" y2="788.9" stroke="#d6d3cd" stroke-width="1.2"/>
<text x="513.2" y="793.1" text-anchor="end">65%</text>
<path d="M526 788.9V762.6M529 788.9V753.1M532 788.9V730.6M535 788.9V733.2M537.8 788.9V743.4M540.1 788.9V739.7M543.4 788.9V725.7M546.2 788.9V722.7M548.9 788.9V722.3M551.9 788.9V720M554.1 788.9V716M557.5 788.9V710.4M560.3 788.9V713.9M563.3 788.9V726.2M566.1 788.9V738.8M568.9 788.9V747.3M571.7 788.9V754.7M574.5 788.9V769.3M577.3 788.9V767.1M580.2 788.9V760.1M583.1 788.9V755.7M586 788.9V715.1M588.8 788.9V712.1M591.4 788.9V722.1M594.4 788.9V711.8M597.2 788.9V704.2M600.2 788.9V701.1M603 788.9V701.1M608.8 788.9V713.4M611.3 788.9V700.2M614.3 788.9V699.5M616.9 788.9V713M620.1 788.9V726.7M623.9 788.9V720.4M625.7 788.9V720.4M628.3 788.9V723.2M631.3 788.9V710.9M635.9 788.9V696.3M637.6 788.9V696.3M639.4 788.9V696.3M642.7 788.9V703.3M645.6 788.9V700.4M648.2 788.9V700.4M652.1 788.9V697.2M653.5 788.9V694.2M656.8 788.9V696.3M659.6 788.9V686.3M662.6 788.9V686.3M665.2 788.9V694.2M668.1 788.9V712.5M670.7 788.9V697.2M673.7 788.9V700.2M676.5 788.9V692.3M679.3 788.9V691.9M682.5 788.9V684.5M685.1 788.9V688.4M688.1 788.9V684.5M691.1 788.9V684.5M693.7 788.9V690.7M696.5 788.9V690.7M699.3 788.9V690.7M702.3 788.9V697.2M705.1 788.9V700.2M711.5 788.9V690.5M713.6 788.9V694M716.4 788.9V696.7M720.6 788.9V694M722 788.9V690.5M724.3 788.9V722.3M730.8 788.9V691.4M734.7 788.9V684.4M735.6 788.9V684.4M739.6 788.9V700.7M741.9 788.9V701.1M744.7 788.9V719.2M747.7 788.9V705.6M753.5 788.9V696.7M755.9 788.9V710M758.8 788.9V714.8M761.6 788.9V714.8M764.4 788.9V723.6M767.5 788.9V701.1M769.8 788.9V705.6M773 788.9V705.6M775.5 788.9V710" stroke="#dccdea" stroke-width="1.3" fill="none"/>
<path d="M525 788.9V762.6M528 788.9V753.1M531 788.9V730.6M534 788.9V733.2M536.8 788.9V743.4M539.1 788.9V739.7M542.4 788.9V725.7M545.2 788.9V722.7M547.9 788.9V722.3M550.9 788.9V720M553.1 788.9V716M556.5 788.9V710.4M559.3 788.9V713.9M562.3 788.9V726.2M565.1 788.9V738.8M567.9 788.9V747.3M570.7 788.9V754.7M573.5 788.9V769.3M576.3 788.9V767.1M579.2 788.9V760.1M582.1 788.9V755.7M585 788.9V715.1M587.8 788.9V712.1M590.4 788.9V722.1M593.4 788.9V711.8M596.2 788.9V704.2M599.2 788.9V701.1M602 788.9V701.1M607.8 788.9V713.4M610.3 788.9V700.2M613.3 788.9V699.5M615.9 788.9V713M619.1 788.9V726.7M622.9 788.9V720.4M624.7 788.9V720.4M627.3 788.9V723.2M630.3 788.9V710.9M634.9 788.9V696.3M636.6 788.9V696.3M638.4 788.9V696.3M641.7 788.9V703.3M644.6 788.9V700.4M647.2 788.9V700.4M651.1 788.9V697.2M652.5 788.9V694.2M655.8 788.9V696.3M658.6 788.9V686.3M661.6 788.9V686.3M664.2 788.9V694.2M667.1 788.9V712.5M669.7 788.9V697.2M672.7 788.9V700.2M675.5 788.9V692.3M678.3 788.9V691.9M681.5 788.9V684.5M684.1 788.9V688.4M687.1 788.9V684.5M690.1 788.9V684.5M692.7 788.9V690.7M695.5 788.9V690.7M698.3 788.9V690.7M701.3 788.9V697.2M704.1 788.9V700.2M710.5 788.9V690.5M712.6 788.9V694M715.4 788.9V696.7M719.6 788.9V694M721 788.9V690.5M723.3 788.9V722.3M729.8 788.9V691.4M733.7 788.9V684.4M734.6 788.9V684.4M738.6 788.9V700.7M740.9 788.9V701.1M743.7 788.9V719.2M746.7 788.9V705.6M752.5 788.9V696.7M754.9 788.9V710M757.8 788.9V714.8M760.6 788.9V714.8M763.4 788.9V723.6M766.5 788.9V701.1M768.8 788.9V705.6M772 788.9V705.6M774.5 788.9V710" stroke="#8658b0" stroke-width="1.0" fill="none"/>
<line x1="525" x2="525" y1="788.9" y2="792.4" stroke="#d6d3cd" stroke-width="1.2"/>
<line x1="649.3" x2="649.3" y1="788.9" y2="792.4" stroke="#d6d3cd" stroke-width="1.2"/>
<line x1="772.7" x2="772.7" y1="788.9" y2="792.4" stroke="#d6d3cd" stroke-width="1.2"/>
<text x="525" y="808.6" text-anchor="middle" textLength="50.8" lengthAdjust="spacingAndGlyphs">3/25/2022</text>
<text x="649.3" y="808.6" text-anchor="middle" textLength="50.8" lengthAdjust="spacingAndGlyphs">1/25/2023</text>
<text x="768.8" y="808.6" text-anchor="middle" textLength="51" lengthAdjust="spacingAndGlyphs">11/25/202</text>
<line x1="877.8" x2="1033" y1="206.1" y2="206.1" stroke="#d9d9d9" stroke-width="1.2"/>
<text x="862.9" y="210.3" text-anchor="end">27,000</text>
<line x1="877.8" x2="1033" y1="235.4" y2="235.4" stroke="#d9d9d9" stroke-width="1.2"/>
<text x="862.9" y="239.6" text-anchor="end">22,000</text>
<line x1="877.8" x2="1033" y1="265" y2="265" stroke="#d9d9d9" stroke-width="1.2"/>
<text x="862.9" y="269.2" text-anchor="end">17,000</text>
<line x1="877.8" x2="1033" y1="294.3" y2="294.3" stroke="#d9d9d9" stroke-width="1.2"/>
<text x="862.9" y="298.5" text-anchor="end">12,000</text>
<line x1="877.8" x2="1033" y1="323.9" y2="323.9" stroke="#d9d9d9" stroke-width="1.2"/>
<text x="862.9" y="328.1" text-anchor="end">7,000</text>
<line x1="877.8" x2="877.8" y1="323.9" y2="327.4" stroke="#d9d9d9" stroke-width="1.2"/>
<line x1="933.7" x2="933.7" y1="323.9" y2="327.4" stroke="#d9d9d9" stroke-width="1.2"/>
<line x1="989.6" x2="989.6" y1="323.9" y2="327.4" stroke="#d9d9d9" stroke-width="1.2"/>
<text x="878.3" y="343.5" text-anchor="middle" textLength="60.5" lengthAdjust="spacingAndGlyphs">1400/01/W1</text>
<text x="956.5" y="343.5" text-anchor="middle" textLength="60.5" lengthAdjust="spacingAndGlyphs">1401/06/W3</text>
<polyline points="877.8,285.2 881.4,285.2 883.2,277.6 886.7,277.6 888.8,272.4 891.1,272 893.2,267.6 896.7,267.3 898.8,263.2 901.1,263.2 902.9,256.2 913.8,256.2 915.2,235.6 917,235.6 918.7,240.4 923.1,240.4 924.3,237.7 925.4,229.3 926.3,229.3 927.5,238.3 945.1,238.3 947.2,270.3 948.2,270.3 949.6,261.8 950.7,278.2 952.1,272.9 956.2,272.9 957.9,286.4 971.1,286.4 972.7,284 974.1,284 976.4,307.7 978.1,282.6 978.7,282.6 979.9,297.9 986.4,297.9 988.1,297.1 993.1,297.1 994.5,284 996.1,292.6 1001,292.6 1002.4,301 1003.4,301.9 1004.8,320.4 1007,321.6 1022.4,321.6 1023.7,299.3 1024.7,298.9 1025.9,312.1 1026.8,270.3 1033,269.9" fill="none" stroke="#1a7572" stroke-width="1.4" stroke-linejoin="round"/>
<line x1="1060.2" x2="1093.6" y1="253" y2="253" stroke="#1a7572" stroke-width="1.5"/>
<text x="1100.1" y="257.8" text-anchor="start" class="lm">IME Iron</text>
<text x="1096.8" y="276.2" text-anchor="start" class="lm">Ore</text>
<text x="1096.8" y="294.7" text-anchor="start" class="lm">(Rial/kg)</text>
<line x1="878.8" x2="1040" y1="396.6" y2="396.6" stroke="#d9d9d9" stroke-width="1.2"/>
<text x="863.8" y="400.8" text-anchor="end">40,000</text>
<line x1="878.8" x2="1040" y1="425.4" y2="425.4" stroke="#d9d9d9" stroke-width="1.2"/>
<text x="863.8" y="429.6" text-anchor="end">35,000</text>
<line x1="878.8" x2="1040" y1="454.1" y2="454.1" stroke="#d9d9d9" stroke-width="1.2"/>
<text x="863.8" y="458.3" text-anchor="end">30,000</text>
<line x1="878.8" x2="1040" y1="482.8" y2="482.8" stroke="#d9d9d9" stroke-width="1.2"/>
<text x="863.8" y="486.9" text-anchor="end">25,000</text>
<line x1="878.8" x2="1040" y1="511.4" y2="511.4" stroke="#d9d9d9" stroke-width="1.2"/>
<text x="863.8" y="515.6" text-anchor="end">20,000</text>
<line x1="878.8" x2="878.8" y1="511.4" y2="514.9" stroke="#d9d9d9" stroke-width="1.2"/>
<line x1="960" x2="960" y1="511.4" y2="514.9" stroke="#d9d9d9" stroke-width="1.2"/>
<text x="879.7" y="531.2" text-anchor="middle" textLength="60.5" lengthAdjust="spacingAndGlyphs">1400/01/W1</text>
<text x="960.9" y="531.2" text-anchor="middle" textLength="60.5" lengthAdjust="spacingAndGlyphs">1401/06/W3</text>
<polyline points="878.8,488.4 885.3,488.4 886.5,491 888.5,489.3 889.7,484.9 890.9,477.8 892.3,477.5 893.6,491.9 894.5,492.2 895.9,478.7 897.1,472.2 898.8,470.8 899.9,473.4 900.4,486.6 901.1,466.4 906.1,466.4 907.1,497.2 912,497.2 913.4,485.7 921,485.7 922.6,476.1 923.5,474.3 924.9,466.8 927.5,466.4 929.3,461.1 931.4,461.1 932.4,451.5 934,450.2 935.8,443.6 937.2,437.9 938.6,437.8 939.8,466.4 940.9,469.9 941.9,455 944.2,457.6 946.5,470.4 950.4,469.9 951.8,490.1 953.3,487.5 954.6,504.7 957,500.2 958.8,504.2 960.5,506.5 962,491.5 963,498.9 964.1,492.8 965.8,493.7 967.6,498 968.6,491 969.7,496.3 971.4,493.7 973.7,496.3 975,494.5 976.4,484 977.6,472.6 978.8,466.4 979.9,461.1 981.6,458.5 984.1,455.9 985.9,455 987.3,450.6 989,448.5 990.8,445.3 991.8,440 993.8,440.9 995.2,434.8 996.9,430.4 998.2,425.1 999.6,421.1 1001.3,418.4 1008.4,418.4 1009.6,422.8 1011.9,422.8 1013.6,421.2 1021.5,421.1 1023.3,420.2 1025.9,421.2 1028.6,421.2 1029.8,419.5 1035.6,419.1 1036.8,421.1 1038.2,428.3 1040,425.6" fill="none" stroke="#1a7572" stroke-width="1.4" stroke-linejoin="round"/>
<line x1="1053.2" x2="1085.7" y1="442.3" y2="442.3" stroke="#1a7572" stroke-width="1.5"/>
<text x="1093.6" y="447.4" text-anchor="start" class="lm">IME</text>
<text x="1089.7" y="465.9" text-anchor="start" class="lm">concentrate</text>
<text x="1089.7" y="483.5" text-anchor="start" class="lm">s (Rial/kg)</text>
<line x1="879.7" x2="1052.3" y1="575.7" y2="575.7" stroke="#d9d9d9" stroke-width="1.2"/>
<text x="864.3" y="579.9" text-anchor="end">55,000</text>
<line x1="879.7" x2="1052.3" y1="607.2" y2="607.2" stroke="#d9d9d9" stroke-width="1.2"/>
<text x="864.3" y="611.4" text-anchor="end">45,000</text>
<line x1="879.7" x2="1052.3" y1="638.8" y2="638.8" stroke="#d9d9d9" stroke-width="1.2"/>
<text x="864.3" y="643" text-anchor="end">35,000</text>
<line x1="879.7" x2="1052.3" y1="670.1" y2="670.1" stroke="#d9d9d9" stroke-width="1.2"/>
<text x="864.3" y="674.3" text-anchor="end">25,000</text>
<line x1="879.7" x2="879.7" y1="670.1" y2="673.6" stroke="#d9d9d9" stroke-width="1.2"/>
<line x1="966.7" x2="966.7" y1="670.1" y2="673.6" stroke="#d9d9d9" stroke-width="1.2"/>
<text x="880.6" y="690.1" text-anchor="middle" textLength="60.5" lengthAdjust="spacingAndGlyphs">1400/01/W1</text>
<text x="967.6" y="690.1" text-anchor="middle" textLength="60.5" lengthAdjust="spacingAndGlyphs">1401/06/W3</text>
<polyline points="879.7,638.1 887.9,638.1 890.6,637.1 893.2,636.7 895.9,635 898,633.2 899.9,632.3 901.7,632.9 902.9,634.5 904.6,631.8 909,631.8 910.1,640.6 916.1,640.3 917.3,624.4 918.2,628.8 919.2,625.3 920.5,629.7 921.3,624.4 922.6,623.2 924.3,626.2 926.6,626.7 931,627.1 932.4,635 934.5,635 936.3,632.3 937.7,625.3 939.8,624.8 941.2,616.5 942.6,614.8 943.8,620.9 945.4,624.4 946.8,627.1 948.2,631.5 949.6,639.4 951.1,647.3 952.1,641.1 953.3,641.1 954.6,655.2 958.3,654.8 959.5,657 960.9,663.1 962.7,664 963.9,661 965.3,664 966.5,665.4 968.8,664 970.6,662.6 972.7,661.7 974.1,660.1 975.8,658.7 976.7,659.9 978.5,657 979.7,656.4 981.1,657.5 982.9,656.1 984.1,649.9 985.2,639.4 986.6,631.5 988,630.6 989,631.8 990.8,630.1 992.5,627.9 994.3,625.8 995.7,622.7 996.9,619.2 998.2,622.7 999.6,618.3 1000.8,614.2 1004,613.9 1005.4,609.5 1006.6,604.2 1008.4,600.2 1011,596.7 1014.5,596.7 1015.7,606.9 1018,607.2 1019.3,610.4 1020.7,610.4 1022.4,607.7 1024.2,606 1025.9,601.2 1035.6,601.6 1037.4,602.5 1040.4,602.1 1042.3,598.9 1044,597.2 1045.3,598.4 1046.7,598.4 1048.3,602.5 1049.7,603.3 1051.1,605.4 1052.3,603.3" fill="none" stroke="#1a7572" stroke-width="1.4" stroke-linejoin="round"/>
<line x1="1051.1" x2="1083.9" y1="619.5" y2="619.5" stroke="#1a7572" stroke-width="1.5"/>
<text x="1091.3" y="624.3" text-anchor="start" class="lm">IME Pellets</text>
<text x="1088" y="642.4" text-anchor="start" class="lm">(Rial/kg)</text>
<line x1="889.7" x2="1057.6" y1="741.8" y2="741.8" stroke="#d9d9d9" stroke-width="1.2"/>
<text x="874.9" y="746" text-anchor="end">250,000</text>
<line x1="889.7" x2="1057.6" y1="775.2" y2="775.2" stroke="#d9d9d9" stroke-width="1.2"/>
<text x="874.9" y="779.4" text-anchor="end">200,000</text>
<line x1="889.7" x2="1057.6" y1="808.4" y2="808.4" stroke="#d9d9d9" stroke-width="1.2"/>
<text x="874.9" y="812.6" text-anchor="end">150,000</text>
<line x1="889.7" x2="1057.6" y1="841.3" y2="841.3" stroke="#d9d9d9" stroke-width="1.2"/>
<text x="874.9" y="845.5" text-anchor="end">100,000</text>
<line x1="889.7" x2="889.7" y1="841.3" y2="844.8" stroke="#d9d9d9" stroke-width="1.2"/>
<line x1="974.6" x2="974.6" y1="841.3" y2="844.8" stroke="#d9d9d9" stroke-width="1.2"/>
<text x="890.6" y="861.3" text-anchor="middle" textLength="60.5" lengthAdjust="spacingAndGlyphs">1400/01/W1</text>
<text x="975" y="861.3" text-anchor="middle" textLength="60.5" lengthAdjust="spacingAndGlyphs">1401/06/W3</text>
<polyline points="890.2,835.5 891.5,836 892.9,832 894.1,829 895.5,828.1 896.7,828.5 898,830.2 899,826 900.6,822.8 902,820.5 903.4,820.2 909.9,820.2 910.8,813.2 913.1,812.8 914.7,809.3 915.7,815.8 917,819.8 918.7,821.1 919.9,820.7 920.5,822 921.7,820.5 922.8,821.6 924,818.4 925.2,815.8 926.4,814.4 927.5,816.7 928.9,819.8 931,821.4 932.4,822.5 934,822.5 935.8,824.6 937.2,825.1 938.9,822.8 940.7,820.5 942.4,819 943.7,818.4 944.6,821.1 946,812.3 947.7,810.5 948.9,807.5 950.4,806.5 951.8,804.9 953,802.6 954.2,805.6 956.5,805.6 957.7,808.8 958.8,812.8 960,809.6 961.8,806.7 962.7,821.1 963.9,812.3 965.3,812.6 966.5,819.3 967.6,822.8 968.5,826 969.3,821.1 970.6,820.5 971.8,823.7 972.7,826 974.1,824.6 975.8,822.8 978.5,822 980.2,819.8 982.5,817.6 984.1,814.9 985.2,812.8 986.4,815.8 988.1,816.3 989.4,812.3 990.8,804.4 992,798.2 993.4,800 994.6,803.5 995.7,798.8 996.9,794.7 998.2,796.5 999.9,796.1 1001,771 1001.9,764.8 1002.7,763.1 1004,781.5 1005.7,781.9 1006.6,785 1007.5,788.6 1008.4,780.6 1009.6,778 1010.5,764.8 1011.3,756.9 1012.8,772.2 1015.4,771 1016.8,767.5 1017.7,759.6 1018.6,755.7 1019.8,771.9 1024.2,772.2 1025.6,772.4 1026.8,774.1 1028,768.3 1029.1,770.1 1030.3,767.5 1031.7,767.1 1033,771.5 1035.1,771.5 1036.1,775.4 1037,778.4 1039.1,778 1040.9,776.6 1043,776.6 1045.3,778 1047,778 1048.8,781 1050.5,782.9 1052.3,783.3 1054.1,784.5 1055.5,784.5 1056.7,786.3 1057.6,786.3" fill="none" stroke="#1a7572" stroke-width="1.4" stroke-linejoin="round"/>
<line x1="1057.2" x2="1090.1" y1="788.2" y2="788.2" stroke="#1a7572" stroke-width="1.5"/>
<text x="1097.1" y="793" text-anchor="start" class="lm">IME Billet</text>
<text x="1094" y="811.4" text-anchor="start" class="lm">(Rial/kg)</text>
<line x1="891.5" x2="1056.7" y1="914.1" y2="914.1" stroke="#d9d9d9" stroke-width="1.2"/>
<text x="876.1" y="918.3" text-anchor="end">300,000</text>
<line x1="891.5" x2="1056.7" y1="950.5" y2="950.5" stroke="#d9d9d9" stroke-width="1.2"/>
<text x="876.1" y="954.7" text-anchor="end">250,000</text>
<line x1="891.5" x2="1056.7" y1="986.7" y2="986.7" stroke="#d9d9d9" stroke-width="1.2"/>
<text x="876.1" y="990.9" text-anchor="end">200,000</text>
<line x1="891.5" x2="1056.7" y1="1022.7" y2="1022.7" stroke="#d9d9d9" stroke-width="1.2"/>
<text x="876.1" y="1026.9" text-anchor="end">150,000</text>
<line x1="891.5" x2="891.5" y1="1022.7" y2="1026.2" stroke="#d9d9d9" stroke-width="1.2"/>
<line x1="974.6" x2="974.6" y1="1022.7" y2="1026.2" stroke="#d9d9d9" stroke-width="1.2"/>
<text x="892.3" y="1042.4" text-anchor="middle" textLength="60.5" lengthAdjust="spacingAndGlyphs">1400/01/W1</text>
<text x="975.3" y="1042.4" text-anchor="middle" textLength="60.5" lengthAdjust="spacingAndGlyphs">1401/06/W3</text>
<polyline points="891.8,1017.4 892.7,1006.9 893.6,1001.6 894.5,1011.8 895.3,992 896.2,995.5 897.1,985.8 898,985.8 898.7,996.3 899.4,984.9 900.1,999 900.8,986.7 901.5,992.8 902.4,978.8 903.2,983.2 903.9,992 904.8,984.9 905.9,991.1 910.8,991.1 912,962.6 915.7,962.6 917,987.6 918.7,981.4 921,980.5 922.6,996.3 924,997.2 925.4,1000.7 926.4,977.4 927.5,986.7 930.1,986.7 931.4,996 932.4,991.1 933.3,995.1 934.5,980.5 936.3,983.2 937.2,980.5 938,989.3 939.5,990.2 940.9,993.7 941.9,995.5 943,998.6 944.2,991.1 945.4,986.7 946.8,984.9 948.9,984 950,980.2 951.2,973.5 952.1,972.3 953,972.3 953.9,978.8 955.1,972.6 956.2,978.4 957.7,983.2 958.6,984 959.7,995.5 961.2,996.3 962.3,1000.4 963.5,1000.7 964.8,1006.9 965.8,1011.3 967.1,1011.8 968.3,1017.8 969.7,1016.2 972.3,1016.2 973.7,1023.6 975,1024.1 976.2,1005.1 978.5,1005.1 979.7,1011.3 980.9,1019.2 982,1007.4 984.6,1007.4 985.9,1009.2 987.3,1006.9 989,1005.1 993.1,1005.1 993.9,969.1 994.6,961.2 995.5,960.3 996.1,968.2 997.3,948 998.2,936.6 999.9,936.2 1000.8,912.9 1001.3,908.1 1002.4,917.2 1003.4,917.6 1004.5,951.5 1005,986.3 1005.5,955.4 1008.4,955 1009.2,944.5 1010.5,931.7 1011.9,939.2 1013.3,946.2 1014.5,941 1016.3,931.7 1017.1,942.7 1018,952.4 1019.4,955.6 1021.2,955.6 1022.4,941 1023.7,937.1 1025.9,936.2 1026.8,942.7 1027.7,950.3 1028.9,950.3 1029.8,943.6 1031.7,943.3 1033,936.6 1045.3,936.6 1046.2,942.2 1051.4,942.2 1052.7,931 1056.7,931" fill="none" stroke="#1a7572" stroke-width="1.4" stroke-linejoin="round"/>
<line x1="1057.2" x2="1089.2" y1="962.4" y2="962.4" stroke="#1a7572" stroke-width="1.5"/>
<text x="1096.8" y="967.2" text-anchor="start" class="lm">IME HR Coil</text>
<text x="1094" y="985.3" text-anchor="start" class="lm">(Rial/kg)</text>
<line x1="891.5" x2="1046.2" y1="1085" y2="1085" stroke="#d9d9d9" stroke-width="1.2"/>
<text x="876.1" y="1089.1" text-anchor="end">250,000</text>
<line x1="891.5" x2="1046.2" y1="1115.4" y2="1115.4" stroke="#d9d9d9" stroke-width="1.2"/>
<text x="876.1" y="1119.6" text-anchor="end">200,000</text>
<line x1="891.5" x2="1046.2" y1="1145.6" y2="1145.6" stroke="#d9d9d9" stroke-width="1.2"/>
<text x="876.1" y="1149.8" text-anchor="end">150,000</text>
<line x1="891.5" x2="1046.2" y1="1175.7" y2="1175.7" stroke="#d9d9d9" stroke-width="1.2"/>
<text x="876.1" y="1179.9" text-anchor="end">100,000</text>
<line x1="891.5" x2="891.5" y1="1175.7" y2="1179.2" stroke="#d9d9d9" stroke-width="1.2"/>
<line x1="969.7" x2="969.7" y1="1175.7" y2="1179.2" stroke="#d9d9d9" stroke-width="1.2"/>
<text x="892" y="1195.5" text-anchor="middle" textLength="60.5" lengthAdjust="spacingAndGlyphs">1400/01/W1</text>
<polyline points="891.8,1140.9 892.9,1167.6 894.1,1141.7 895,1149.6 895.9,1142.6 896.7,1149.6 897.4,1130.3 898.3,1138.2 899,1132.9 899.7,1142.6 900.4,1146.1 901.5,1123.3 902.4,1130.3 903.2,1124.2 904.1,1123.3 905,1138.2 905.9,1139.1 906.8,1124.2 907.6,1117.5 908.5,1137.3 909.6,1140.9 910.4,1121 911.3,1120.6 912.2,1133.8 912.9,1088.1 913.8,1120.6 914.5,1140.9 915.4,1129.4 916.2,1134.7 917.3,1129.4 918.4,1126.4 919.2,1135.6 920.1,1141.7 921,1135.6 921.9,1142.6 922.8,1146.5 923.6,1133.8 924.3,1126.4 925.2,1142.6 926.3,1125.9 927.5,1127.7 928.9,1129.4 930,1138.2 931,1144.4 932.2,1139.1 933.1,1131.2 934.2,1137.3 935.2,1135.6 936.3,1151.4 937.5,1133.8 938.6,1148.8 939.8,1139.1 940.9,1128.6 941.9,1144.4 943,1141.2 944.2,1142.6 945.3,1140.9 946.1,1118 947.2,1109.2 948.1,1120.6 948.9,1130.3 950,1117.1 950.9,1117.1 951.8,1128.6 952.8,1135.6 953.9,1141.2 955.1,1132.1 956,1129.4 957,1133.8 957.9,1141.7 959.1,1132.9 960.2,1137.3 961.4,1144.4 962.7,1147.9 963.9,1153.2 964.9,1154 966.2,1142.6 967.1,1142.3 968.3,1150 969.3,1151.4 970.6,1139.1 971.4,1152.3 972.3,1154.9 973.2,1149.6 975,1148.8 976.7,1148.4 978.5,1146.5 982,1146.5 984.1,1141.7 985.2,1129.4 986.4,1126.8 987.8,1130.3 989,1125 990.8,1120.6 992.5,1118.9 993.6,1116.2 994.3,1087.2 996.6,1086.9 997.5,1109.2 998.2,1111 999,1107.5 999.9,1106.6 1001,1115.9 1002,1100.4 1003.1,1087.2 1004,1093.4 1004.8,1097.8 1005.9,1092.5 1007,1093.4 1008.4,1092.2 1009.8,1092.2 1011.5,1095.2 1012.8,1099.6 1014.5,1100.8 1016.3,1106.6 1017.7,1107.5 1018.9,1103.1 1020.7,1101.3 1022.1,1099.6 1023.8,1099.6 1025.9,1101.3 1028,1102.2 1029.8,1103.4 1032.1,1104.3 1033.8,1103.9 1035.6,1103.1 1037.4,1104.8 1039.1,1107.8 1040.9,1108.3 1042.1,1112.7 1043,1113.6 1044.4,1111.9 1046.2,1111.5" fill="none" stroke="#1a7572" stroke-width="1.4" stroke-linejoin="round"/>
<line x1="1055.3" x2="1088.3" y1="1130.3" y2="1130.3" stroke="#1a7572" stroke-width="1.5"/>
<text x="1095.4" y="1135.1" text-anchor="start" class="lm">IME Rebar</text>
<text x="1092.4" y="1153.5" text-anchor="start" class="lm">(Rial/kg)</text>
<line x1="1727.2" x2="1874.8" y1="217.6" y2="217.6" stroke="#d9d9d9" stroke-width="1.2"/>
<text x="1715.9" y="221.8" text-anchor="end">200</text>
<line x1="1727.2" x2="1874.8" y1="242.7" y2="242.7" stroke="#d9d9d9" stroke-width="1.2"/>
<text x="1715.9" y="246.9" text-anchor="end">150</text>
<line x1="1727.2" x2="1874.8" y1="268.2" y2="268.2" stroke="#d9d9d9" stroke-width="1.2"/>
<text x="1715.9" y="272.4" text-anchor="end">100</text>
<line x1="1727.2" x2="1874.8" y1="293.7" y2="293.7" stroke="#d9d9d9" stroke-width="1.2"/>
<text x="1715.9" y="297.9" text-anchor="end">50</text>
<line x1="1727.2" x2="1874.8" y1="319.2" y2="319.2" stroke="#d9d9d9" stroke-width="1.2"/>
<text x="1715.9" y="323.4" text-anchor="end">0</text>
<line x1="1727.2" x2="1727.2" y1="319.2" y2="322.7" stroke="#d9d9d9" stroke-width="1.2"/>
<line x1="1813" x2="1813" y1="319.2" y2="322.7" stroke="#d9d9d9" stroke-width="1.2"/>
<text x="1727.7" y="338.7" text-anchor="middle" textLength="50.8" lengthAdjust="spacingAndGlyphs">3/22/2022</text>
<text x="1813.3" y="338.7" text-anchor="middle" textLength="50.8" lengthAdjust="spacingAndGlyphs">3/22/2023</text>
<polyline points="1727.2,275.3 1728.6,271.7 1729.8,267.9 1731.1,268.2 1732.1,271.2 1733.3,270.5 1734.6,273.5 1735.6,278.8 1736.9,276.1 1738.1,281.4 1739.5,284.9 1740.9,283.2 1742.3,280.5 1743.9,276.1 1745.3,272.6 1746.5,276.1 1747.9,281.4 1749.2,287.6 1750,282.3 1751.3,286.7 1752.7,285.8 1753.9,290.2 1755,295.1 1756.2,294.6 1757.1,284.9 1758.3,287.6 1759.5,285.8 1760.9,286.7 1762,285.8 1763.4,290.2 1764.5,277.5 1765.5,291.1 1766.7,292.8 1768,288.4 1769.4,289.3 1771.1,290.5 1772.9,291.1 1774.6,290.2 1776.1,291.6 1777.5,292 1778.7,294.6 1779.9,298.1 1781.3,293.7 1782.7,290.2 1784,287.6 1785.2,286.7 1786.6,284 1787.8,281.4 1789.2,279.6 1790.5,280 1792.2,278.8 1794,277.4 1795.7,275.6 1797.5,273.5 1799.3,274.4 1800.7,272.3 1802.1,274.4 1803.5,274 1804.9,275.8 1806.3,271.7 1807.7,276.1 1809.1,274.4 1810.5,272.6 1811.6,271.7 1813,274.4 1814.2,277.9 1815.4,275.3 1816.8,277.5 1818.2,278.8 1819.6,281.4 1821.1,285.8 1822.5,285.8 1823.9,284.9 1825.3,286.3 1826.7,283.2 1828.1,288.4 1829.5,285.8 1830.9,283.2 1832.3,281.4 1833.7,281.4 1835.1,281.1 1836.5,282.3 1837.9,281.4 1839.3,284 1840.7,280.2 1842.3,280.2 1843.7,283.2 1845.1,285.8 1846.7,286.7 1848.5,284.9 1849.9,282.3 1851.3,280.5 1852.7,279.6 1854.1,278.8 1855.2,277.4 1856.6,279.6 1858,281.4 1859.4,281.4 1860.8,283.2 1862.2,282.3 1863.6,283.5 1865,281.4 1866.4,279.6 1867.8,277.5 1869.2,276.1 1870.6,275.3 1871.7,276.1 1872.7,278.8 1873.8,280 1874.8,280.5" fill="none" stroke="#1a7572" stroke-width="1.3" stroke-linejoin="round"/>
<polyline points="1727.2,246.2 1728.6,241.9 1729.8,238.3 1731.1,238.3 1732.1,241.3 1733.3,240.6 1734.6,243.6 1735.6,248.9 1736.9,245.4 1738.1,250.6 1739.5,254.2 1740.9,251.5 1742.3,252.4 1743.9,248 1745.3,245 1746.5,249.8 1747.9,257.7 1749.2,262.1 1750,256.8 1751.3,262.9 1752.7,261.2 1753.9,265.6 1755,270.5 1756.2,267.3 1757.1,260.3 1758.3,263.8 1759.5,262.1 1760.6,266.5 1762,264.7 1763.4,268.2 1764.5,259.4 1765.5,270 1766.7,270.9 1768,266.5 1769.4,268.2 1771.1,270 1772.9,270.9 1774.6,270.5 1776.1,271.7 1777.5,272.6 1778.7,276.1 1779.9,278.8 1781.3,274.4 1782.7,270 1784,270.9 1785.2,268.2 1786.6,266.5 1787.8,262.9 1789.2,262.1 1790.5,262.9 1792.2,261.2 1794,260.3 1795.7,257.7 1797.5,255.4 1799.3,256.8 1800.7,253.6 1802.1,255.9 1803.5,255 1804.9,256.8 1806.3,252.4 1807.7,256.4 1809.1,254.2 1810.5,252.9 1811.6,251.9 1813,254.2 1814.2,257.7 1815.4,254.7 1816.8,256.8 1818.2,258.6 1819.6,260.3 1821.1,264.7 1822.5,266.5 1823.9,265.6 1825.3,267.3 1826.7,264.7 1828.1,268.8 1829.5,265.6 1830.9,262.9 1832.3,260.7 1833.7,262.1 1835.1,261.2 1836.5,262.9 1837.9,261.2 1839.3,263.5 1840.7,260.3 1842.3,261.2 1843.7,263.8 1845.1,265.9 1846.7,266.5 1848.5,264.7 1849.9,262.4 1851.3,260 1852.7,258.6 1854.1,257.7 1855.2,255.9 1856.6,257.7 1858,258.6 1859.4,257.7 1860.8,260.3 1862.2,258.9 1863.6,260.3 1865,257.7 1866.4,255.4 1867.8,253.6 1869.2,252.4 1870.6,251.5 1871.7,250.6 1872.7,252.4 1873.8,251.9 1874.8,253.3" fill="none" stroke="#7030a0" stroke-width="1.3" stroke-linejoin="round"/>
<line x1="1900.9" x2="1933.7" y1="229.6" y2="229.6" stroke="#1a7572" stroke-width="1.5"/>
<line x1="1900.9" x2="1933.7" y1="288.4" y2="288.4" stroke="#7030a0" stroke-width="1.5"/>
<text x="1937.8" y="233.9" text-anchor="start" class="lg">Iranian</text>
<text x="1937.8" y="250.9" text-anchor="start" class="lg">hematite</text>
<text x="1937.8" y="266.8" text-anchor="start" class="lg">fines 62%</text>
<text x="1937.8" y="292.8" text-anchor="start" class="lg">Seaborne</text>
<text x="1937.8" y="309.5" text-anchor="start" class="lg">index 62%</text>
<text x="1937.8" y="325.3" text-anchor="start" class="lg">Fe fines</text>
<line x1="1727.2" x2="1871.3" y1="414.5" y2="414.5" stroke="#d9d9d9" stroke-width="1.2"/>
<text x="1715.9" y="418.7" text-anchor="end">160</text>
<line x1="1727.2" x2="1871.3" y1="459.4" y2="459.4" stroke="#d9d9d9" stroke-width="1.2"/>
<text x="1715.9" y="463.5" text-anchor="end">110</text>
<line x1="1727.2" x2="1871.3" y1="504" y2="504" stroke="#d9d9d9" stroke-width="1.2"/>
<text x="1715.9" y="508.2" text-anchor="end">60</text>
<line x1="1727.2" x2="1727.2" y1="504" y2="507.5" stroke="#d9d9d9" stroke-width="1.2"/>
<line x1="1811.2" x2="1811.2" y1="504" y2="507.5" stroke="#d9d9d9" stroke-width="1.2"/>
<text x="1727.7" y="523.3" text-anchor="middle" textLength="50.8" lengthAdjust="spacingAndGlyphs">3/22/2022</text>
<text x="1811.6" y="523.3" text-anchor="middle" textLength="50.8" lengthAdjust="spacingAndGlyphs">3/22/2023</text>
<polyline points="1727.2,426.8 1728.2,421.6 1729.3,418.4 1730.7,418.4 1731.8,426.3 1732.8,422.8 1734.2,425.4 1735.3,430.4 1736,439.5 1737,432.5 1738.1,432.1 1739.1,452.7 1740.2,453.9 1741.2,450.9 1742.3,451.8 1743.4,445.6 1744.4,439.5 1745.5,437.7 1746.5,444.8 1747.6,455.3 1748.6,469.4 1749.7,460.6 1750.7,471.1 1751.8,469.4 1752.9,474.6 1753.9,487 1755,491.3 1756,472.9 1757.1,464.1 1758.1,467.6 1759.2,464.1 1760.6,465.9 1762,472.9 1763.4,476.4 1764.5,474.6 1765.5,481.7 1766.7,478.2 1767.6,472.9 1769,476.4 1770.4,480.8 1771.8,479 1773.2,479.9 1774.6,476.4 1776.1,479 1777.5,487 1778.5,494 1779.6,495.7 1780.6,488.7 1781.7,485.2 1782.7,480.8 1783.8,482.6 1785.2,476.4 1786.6,471.1 1787.7,472 1789.1,466.7 1790.5,468.5 1791.9,465.9 1793.3,462.3 1794.7,460.6 1795.7,456.2 1796.8,457.1 1797.9,455.3 1798.9,454.4 1800.3,452.7 1801.4,457.1 1802.4,458.8 1803.5,455.3 1804.5,454.4 1805.6,456.2 1806.6,459.7 1807.7,452.7 1808.8,450.9 1809.8,443 1810.9,440.4 1811.9,446.5 1813,449.2 1814,446.5 1815.1,453.6 1816.1,450.9 1817.2,452.7 1818.2,457.1 1819.3,467.6 1820.4,469.4 1821.4,465.9 1822.5,470.3 1823.5,464.1 1824.9,465.9 1826,475.5 1827,472.9 1828.1,475.5 1829.5,473.8 1830.9,476.4 1832.3,473.8 1833.7,476.4 1835.1,477.3 1836.5,480.8 1837.9,474.6 1839.3,472 1840.4,472.9 1841.4,479.9 1842.9,485.2 1844.3,486.1 1845.7,479.9 1847.1,475.5 1848.5,472 1849.9,469.4 1851.3,467.6 1852.3,463.2 1853.8,462.3 1855.2,467.6 1856.6,470.3 1858,475.5 1859,472.9 1860.1,475.5 1861.1,471.1 1862.5,469.4 1863.9,465.9 1865.4,463.2 1866.4,459.7 1867.8,455.3 1869.2,457.1 1870.3,462.3 1871.3,466.7" fill="none" stroke="#1a7572" stroke-width="1.5" stroke-linejoin="round"/>
<polyline points="1727.2,426.3 1728.2,421 1729.3,417.5 1730.7,417.5 1731.8,425.4 1732.8,421.9 1734.2,424.6 1735.3,428.9 1736,438.6 1737,430.7 1738.1,429.8 1739.1,446.5 1740.2,448.3 1741.2,441.2 1742.3,445.6 1743.4,439.5 1744.4,433.3 1745.5,431.1 1746.5,436.9 1747.6,449.2 1748.6,455.3 1749.7,450 1750.7,460.6 1751.8,456.2 1752.9,464.1 1753.9,476.4 1755,479.9 1756,467.6 1757.1,460.6 1758.1,465 1759.2,461.5 1760.6,463.2 1762,471.1 1763.4,472.9 1764.5,470.3 1765.5,478.2 1766.7,474.6 1767.6,469.4 1769,472.9 1770.4,476.4 1771.8,474.6 1773.2,475.5 1774.6,472 1776.1,474.6 1777.5,479.9 1778.5,485.2 1779.6,487.8 1780.6,483.4 1781.7,480.8 1782.7,476.4 1783.8,474.6 1785.2,471.1 1786.6,465 1787.7,460.6 1789.1,458.8 1790.5,457.9 1791.9,457.1 1793.3,455.3 1794.7,452.7 1795.7,448.3 1796.8,437.7 1797.9,440.4 1798.9,437.7 1800.3,436 1801.4,439.5 1802.4,437.4 1803.5,441.2 1804.5,446.5 1805.6,443 1806.6,447.4 1807.7,450 1808.8,444.8 1809.8,441.2 1810.9,439.8 1811.9,445.6 1813,448.3 1814,445.6 1815.1,452.7 1816.1,450 1817.2,451.8 1818.2,455.3 1819.3,465 1820.4,467.6 1821.4,463.2 1822.5,468.5 1823.5,461.5 1824.9,462.3 1826,471.1 1827,467.6 1828.1,464.1 1829.5,459.7 1830.9,458.8 1832.3,462.3 1833.7,460.6 1835.1,462.3 1836.5,464.1 1837.9,457.9 1839.3,454.4 1840.4,457.1 1841.4,463.2 1842.9,467.6 1844.3,469.4 1845.7,464.1 1847.1,460.6 1848.5,457.1 1849.9,455.3 1851.3,452.7 1852.3,450 1853.8,451.8 1855.2,456.2 1856.6,455.3 1858,459.7 1859,460.6 1860.1,455.3 1861.1,458.8 1862.5,454.4 1863.9,451.8 1865.4,448.3 1866.4,445.6 1867.8,441.2 1869.2,442.1 1870.3,446.5 1871.3,449.2" fill="none" stroke="#7030a0" stroke-width="1.5" stroke-linejoin="round"/>
<line x1="1897.7" x2="1930.2" y1="411.9" y2="411.9" stroke="#1a7572" stroke-width="1.5"/>
<line x1="1897.7" x2="1930.2" y1="470.8" y2="470.8" stroke="#7030a0" stroke-width="1.5"/>
<text x="1934.6" y="416.2" text-anchor="start" class="lg">Chilean</text>
<text x="1934.6" y="432.4" text-anchor="start" class="lg">concentrate</text>
<text x="1934.6" y="449.1" text-anchor="start" class="lg">s-67%</text>
<text x="1934.6" y="475.1" text-anchor="start" class="lg">Iranian</text>
<text x="1934.6" y="491.3" text-anchor="start" class="lg">concentrate</text>
<text x="1934.6" y="508" text-anchor="start" class="lg">s 67%</text>
<line x1="1727.2" x2="1874.8" y1="598" y2="598" stroke="#d9d9d9" stroke-width="1.2"/>
<text x="1715.9" y="602.2" text-anchor="end">160</text>
<line x1="1727.2" x2="1874.8" y1="630.4" y2="630.4" stroke="#d9d9d9" stroke-width="1.2"/>
<text x="1715.9" y="634.6" text-anchor="end">110</text>
<line x1="1727.2" x2="1874.8" y1="661.5" y2="661.5" stroke="#d9d9d9" stroke-width="1.2"/>
<text x="1715.9" y="665.7" text-anchor="end">60</text>
<line x1="1727.2" x2="1727.2" y1="661.5" y2="665" stroke="#d9d9d9" stroke-width="1.2"/>
<line x1="1813" x2="1813" y1="661.5" y2="665" stroke="#d9d9d9" stroke-width="1.2"/>
<text x="1727.7" y="681.3" text-anchor="middle" textLength="50.8" lengthAdjust="spacingAndGlyphs">3/22/2022</text>
<text x="1813.3" y="681.3" text-anchor="middle" textLength="50.8" lengthAdjust="spacingAndGlyphs">3/22/2023</text>
<polyline points="1738.6,585.2 1739.5,594 1740.9,599.3 1742.3,597.5 1743.7,594.9 1744.8,589.6 1745.8,587 1746.9,591.4 1747.9,598.4 1749,609.8 1750,605.4 1751.1,610.7 1752.1,616 1753.2,616.9 1754.3,624.8 1755.3,630.9 1756.4,630.9 1757.4,616.9 1758.5,617.7 1759.5,622.1 1760.6,619.5 1761.6,621.2 1763,623.9 1764.5,621.2 1765.5,620.4 1766.6,626.5 1767.6,624.8 1768.7,623 1769.7,627.4 1770.8,630.9 1772.2,631.8 1773.6,632.7 1775,630.9 1776.4,633.2 1777.8,634.4 1778.9,637.9 1779.9,641.5 1781,637.1 1782,636.2 1783.1,632.7 1784.5,629.2 1785.9,625.6 1787.3,623 1788.7,621.2 1790.1,622.1 1791.2,620.9 1792.2,623.9 1793.6,623 1795,620.4 1796.4,618.6 1797.9,616.9 1799.3,616 1800.7,614.7 1802.1,616.9 1803.5,616 1804.9,617.7 1805.9,615.1 1807,613.3 1808,616.9 1809.5,617.7 1810.9,616 1811.9,615.1 1813,618.6 1814,621.2 1815.1,617.7 1816.1,618.6 1817.2,623.9 1818.6,624.8 1820,625.6 1821.1,632.7 1822.1,634.4 1823.2,632.7 1824.2,635.3 1825.3,631.8 1826.3,632.7 1827.4,634.4 1828.4,638.8 1829.5,634.4 1830.5,630.9 1832,627.4 1833.4,625.6 1834.8,628.3 1836.2,629.2 1837.6,630 1839,632.7 1840,626.5 1841.4,625.6 1842.9,626.5 1844.3,632.7 1845.7,635.3 1847.1,635.3 1848.5,632.7 1849.9,629.2 1851.3,626.5 1852.7,625.6 1854.1,623.9 1855.2,621.6 1856.6,624.8 1858,626.5 1859.4,627.4 1860.8,630.9 1862.2,629.2 1863.6,631.4 1864.6,626.5 1866.1,621.2 1867.5,619.5 1868.9,617.7 1870.3,616.3 1871.3,616 1872.4,618.6 1873.1,624.8 1874.1,626 1874.8,625.3" fill="none" stroke="#7030a0" stroke-width="1.4" stroke-linejoin="round"/>
<line x1="1900.9" x2="1933.7" y1="622.5" y2="622.5" stroke="#7030a0" stroke-width="1.5"/>
<text x="1937.8" y="626.8" text-anchor="start" class="lg">Brazilian -</text>
<text x="1937.8" y="643.5" text-anchor="start" class="lg">pellets 65%</text>
<line x1="1727.2" x2="1871.3" y1="735.7" y2="735.7" stroke="#d9d9d9" stroke-width="1.2"/>
<text x="1715.9" y="739.9" text-anchor="end">800</text>
<line x1="1727.2" x2="1871.3" y1="759.8" y2="759.8" stroke="#d9d9d9" stroke-width="1.2"/>
<text x="1715.9" y="764" text-anchor="end">700</text>
<line x1="1727.2" x2="1871.3" y1="783.9" y2="783.9" stroke="#d9d9d9" stroke-width="1.2"/>
<text x="1715.9" y="788.1" text-anchor="end">600</text>
<line x1="1727.2" x2="1871.3" y1="807.8" y2="807.8" stroke="#d9d9d9" stroke-width="1.2"/>
<text x="1715.9" y="812" text-anchor="end">500</text>
<line x1="1727.2" x2="1871.3" y1="831.9" y2="831.9" stroke="#d9d9d9" stroke-width="1.2"/>
<text x="1715.9" y="836.1" text-anchor="end">400</text>
<line x1="1727.2" x2="1727.2" y1="831.9" y2="835.4" stroke="#d9d9d9" stroke-width="1.2"/>
<line x1="1811.2" x2="1811.2" y1="831.9" y2="835.4" stroke="#d9d9d9" stroke-width="1.2"/>
<text x="1727.7" y="851.4" text-anchor="middle" textLength="50.8" lengthAdjust="spacingAndGlyphs">3/22/2022</text>
<text x="1811.6" y="851.4" text-anchor="middle" textLength="50.8" lengthAdjust="spacingAndGlyphs">3/22/2023</text>
<line x1="1728.8" x2="1728.8" y1="747.5" y2="832.8" stroke="#7030a0" stroke-width="2.4"/>
<polyline points="1730,735.7 1730.4,745.8 1731.4,747.5 1732.5,746.6 1733.5,747.5 1734.6,751.9 1735.6,756.3 1736.7,755.4 1737.7,756.3 1738.8,761.6 1739.8,763.3 1740.9,766.9 1742,766 1743,768.6 1744.1,766 1745.5,765.6 1746.5,771.2 1747.6,781.8 1748.3,790.6 1749.3,786.2 1750.4,783.6 1751.1,787.1 1752.1,787.4 1753.2,797.6 1754.6,799.4 1756.7,799 1758.1,795 1759.5,794.1 1760.9,795 1762,798.5 1763.4,800.3 1765.2,800.8 1766.6,797.6 1768,798 1769,802 1770.1,805.5 1771.5,804.6 1772.9,803.2 1774.3,804.3 1775.7,806.4 1776.8,807.3 1777.8,811.7 1778.9,816.1 1779.9,812.6 1781,810.8 1782,807.8 1783.4,809.9 1784.8,809.9 1786.2,806.4 1787.7,801.1 1789.1,796.7 1790.1,799.4 1791.2,796.7 1792.6,797.6 1794,795 1795.4,790.9 1796.8,792.3 1798.2,793.2 1799.6,790.2 1801,793.2 1802.4,794.5 1803.8,794.1 1805.2,790.6 1806.6,791.5 1808,788.8 1809.5,786.2 1810.5,788.8 1811.6,793.2 1813,792 1814.4,795 1815.8,795.9 1817.2,797.3 1818.2,797.6 1819.3,805.5 1820.7,807.3 1822.1,807.3 1823.5,809 1824.9,810.8 1826,815.2 1827.4,816.4 1828.8,810.8 1830.2,808.2 1831.6,806.8 1832.7,808.2 1833.7,812.6 1834.8,809.9 1836.2,811.3 1837.6,810.8 1839,809 1840.4,805.5 1841.8,806.1 1843.2,809.9 1844.6,811.3 1846,811.7 1847.4,811.3 1848.8,810.8 1850.2,809.9 1851.3,812 1852.7,810.8 1854.1,812.6 1855.5,814.3 1856.9,815.2 1858.3,816.1 1859.7,816.6 1860.8,817 1862.2,814.3 1863.6,811.7 1865,809 1866.4,806.4 1867.5,803.8 1868.5,805.5 1869.6,805.5 1870.6,806.4 1871.7,807.3" fill="none" stroke="#7030a0" stroke-width="1.5" stroke-linejoin="round"/>
<line x1="1897.7" x2="1930.2" y1="782.7" y2="782.7" stroke="#7030a0" stroke-width="1.5"/>
<text x="1934.6" y="787" text-anchor="start" class="lg">Billet Prices-</text>
<text x="1934.6" y="804.1" text-anchor="start" class="lg">Tangshan</text>
<line x1="1727.2" x2="1869.9" y1="919.3" y2="919.3" stroke="#d9d9d9" stroke-width="1.2"/>
<text x="1715.9" y="923.4" text-anchor="end">900</text>
<line x1="1727.2" x2="1869.9" y1="940.4" y2="940.4" stroke="#d9d9d9" stroke-width="1.2"/>
<text x="1715.9" y="944.5" text-anchor="end">800</text>
<line x1="1727.2" x2="1869.9" y1="961.6" y2="961.6" stroke="#d9d9d9" stroke-width="1.2"/>
<text x="1715.9" y="965.8" text-anchor="end">700</text>
<line x1="1727.2" x2="1869.9" y1="982.7" y2="982.7" stroke="#d9d9d9" stroke-width="1.2"/>
<text x="1715.9" y="986.9" text-anchor="end">600</text>
<line x1="1727.2" x2="1869.9" y1="1004" y2="1004" stroke="#d9d9d9" stroke-width="1.2"/>
<text x="1715.9" y="1008.2" text-anchor="end">500</text>
<line x1="1727.2" x2="1727.2" y1="1004" y2="1007.5" stroke="#d9d9d9" stroke-width="1.2"/>
<line x1="1810.2" x2="1810.2" y1="1004" y2="1007.5" stroke="#d9d9d9" stroke-width="1.2"/>
<text x="1727.7" y="1023.6" text-anchor="middle" textLength="50.8" lengthAdjust="spacingAndGlyphs">3/22/2022</text>
<text x="1810.7" y="1023.6" text-anchor="middle" textLength="50.8" lengthAdjust="spacingAndGlyphs">3/22/2023</text>
<line x1="1728.8" x2="1728.8" y1="937.2" y2="1004.3" stroke="#7030a0" stroke-width="2.4"/>
<polyline points="1730,919.3 1730.4,934.6 1731.4,937.2 1732.5,936.8 1733.5,938.1 1734.6,945.1 1735.6,950.4 1736.7,949.5 1737.7,954.8 1738.8,960 1739.8,957.4 1740.9,956.5 1742,960.9 1743,956.5 1744.1,954.8 1745.1,953 1746.2,955.6 1747.2,962.7 1748.3,971.5 1749.3,968.8 1750.4,972.3 1751.4,979.4 1752.5,987.3 1753.6,990.8 1754.6,987.3 1755.7,986.4 1756.7,982 1758.1,979.7 1759.5,980.3 1760.9,982.9 1762,986.4 1763,984.6 1764.1,988.2 1765.2,989 1766.2,986.4 1767.6,988.2 1769,991.3 1770.4,989.9 1771.8,989 1772.9,988.2 1773.9,992.6 1775.4,996.1 1776.8,997.8 1778.2,1001 1779.2,999.6 1780.3,995.2 1781.3,990.8 1782.4,992.6 1783.4,993.4 1784.5,995.2 1785.5,989 1787,984.6 1788.4,981.1 1789.4,982 1790.8,981.1 1792.2,979.4 1793.6,976.7 1795,973.8 1796.4,976.2 1797.9,975 1798.9,973.2 1800.3,977.6 1801.7,976.7 1803.1,975.5 1804.5,974.5 1805.9,973.8 1807.3,972.3 1808.4,969.7 1809.5,972.3 1810.9,975.9 1811.9,973.8 1813,973.2 1814,976.7 1815.4,977.6 1816.5,976.7 1817.5,980.3 1818.6,985.5 1820,986.4 1821.1,989.9 1822.1,987.3 1823.5,990.8 1824.9,993.4 1826,998.7 1827.4,992.6 1828.8,991.7 1830.2,990.8 1831.6,997 1832.7,993.4 1834.1,994.3 1835.1,997.8 1836.2,993.4 1837.6,994.3 1839,989 1840,986.1 1841.1,988.2 1842.5,991.7 1843.9,994.3 1845.3,996.6 1846.7,994.3 1848.1,993.4 1849.5,995.2 1850.9,993.4 1852.3,996.1 1853.8,995.7 1855.2,997 1856.6,998.7 1858,999.1 1859.4,998.7 1860.8,997 1862.2,995.2 1863.6,993.4 1865,990.8 1866.1,989 1867.5,989 1868.9,989.9 1869.9,990.3" fill="none" stroke="#7030a0" stroke-width="1.5" stroke-linejoin="round"/>
<line x1="1896.3" x2="1929" y1="936.3" y2="936.3" stroke="#7030a0" stroke-width="1.5"/>
<text x="1932.9" y="940.6" text-anchor="start" class="lg">HR</text>
<text x="1932.9" y="957" text-anchor="start" class="lg">Coil/Plate in</text>
<text x="1932.9" y="974" text-anchor="start" class="lg">Shanghai-</text>
<text x="1932.9" y="990.2" text-anchor="start" class="lg">Shagang-</text>
<text x="1932.9" y="1006.6" text-anchor="start" class="lg">5.5*1500*C</text>
<line x1="1727.2" x2="1873.8" y1="1083.2" y2="1083.2" stroke="#d9d9d9" stroke-width="1.2"/>
<text x="1715.9" y="1087.4" text-anchor="end">900</text>
<line x1="1727.2" x2="1873.8" y1="1109.2" y2="1109.2" stroke="#d9d9d9" stroke-width="1.2"/>
<text x="1715.9" y="1113.4" text-anchor="end">800</text>
<line x1="1727.2" x2="1873.8" y1="1134.9" y2="1134.9" stroke="#d9d9d9" stroke-width="1.2"/>
<text x="1715.9" y="1139.1" text-anchor="end">700</text>
<line x1="1727.2" x2="1873.8" y1="1161.1" y2="1161.1" stroke="#d9d9d9" stroke-width="1.2"/>
<text x="1715.9" y="1165.3" text-anchor="end">600</text>
<line x1="1727.2" x2="1873.8" y1="1186.6" y2="1186.6" stroke="#d9d9d9" stroke-width="1.2"/>
<text x="1715.9" y="1190.8" text-anchor="end">500</text>
<line x1="1727.2" x2="1727.2" y1="1186.6" y2="1190.1" stroke="#d9d9d9" stroke-width="1.2"/>
<line x1="1812.4" x2="1812.4" y1="1186.6" y2="1190.1" stroke="#d9d9d9" stroke-width="1.2"/>
<text x="1727.7" y="1206.9" text-anchor="middle" textLength="50.8" lengthAdjust="spacingAndGlyphs">3/22/2022</text>
<text x="1812.8" y="1206.9" text-anchor="middle" textLength="50.8" lengthAdjust="spacingAndGlyphs">3/22/2023</text>
<line x1="1728.9" x2="1728.9" y1="1112.7" y2="1188" stroke="#7030a0" stroke-width="2.4"/>
<polyline points="1730,1083.2 1730.4,1111 1731.4,1109.2 1732.5,1111 1733.9,1108.3 1734.9,1113.6 1736,1118 1737,1117.1 1738.1,1118 1739.1,1124.2 1740.2,1129.4 1741.2,1126.8 1742.3,1131.2 1743.4,1128.6 1744.4,1127.7 1745.5,1130.3 1746.5,1133.8 1747.6,1140 1748.6,1155.8 1749.7,1152.3 1750.7,1149.6 1751.8,1154.9 1752.9,1155.8 1753.9,1164.6 1755,1169 1756,1167.2 1757.1,1163.7 1758.1,1156.7 1759.5,1157.6 1760.9,1157.6 1762.3,1161.1 1763.8,1161.1 1765.2,1163.7 1766.2,1165.5 1767.6,1162.8 1769,1163.7 1770.4,1166.3 1771.8,1164.6 1773.2,1164.2 1774.6,1164.6 1775.7,1167.2 1776.8,1175.1 1777.8,1176.9 1778.9,1180.4 1779.9,1183.9 1781,1182.2 1782,1179.5 1783.1,1178.1 1784.5,1179.5 1785.9,1179.5 1787.3,1176 1788.7,1171.6 1790.1,1169.9 1791.5,1169 1792.9,1166.3 1794.3,1163.7 1795.7,1160.2 1797.1,1157.6 1798.6,1157.6 1799.6,1156.3 1800.7,1154.9 1801.7,1157.6 1803.1,1159.3 1804.5,1158.8 1805.9,1156.3 1807.3,1155.8 1808.8,1154.9 1809.8,1153.2 1810.9,1152.3 1811.9,1155.8 1813,1158.4 1814,1156.3 1815.1,1157.6 1816.1,1161.1 1817.2,1162 1818.2,1164.6 1819.3,1165.5 1820.4,1169.9 1821.4,1173.4 1822.8,1173.9 1824.2,1175.1 1825.6,1176 1827,1177.8 1828.4,1180.4 1829.8,1179.5 1831.2,1176.9 1832.7,1176.9 1833.7,1174.3 1834.8,1178.7 1836.2,1179.5 1837.9,1178.7 1839.7,1179.5 1841.1,1178.7 1842.5,1176 1843.9,1179.5 1845.3,1183 1846.7,1185.2 1848.5,1185.2 1849.9,1183.9 1850.6,1183 1850.9,1164.9 1851.3,1183 1852.7,1183 1854.1,1180.4 1855.2,1179.5 1856.6,1181.3 1858,1181.3 1859.4,1181.6 1860.8,1183 1862.2,1183.6 1863.6,1183 1865,1181.3 1866.4,1177.8 1867.8,1175.1 1869.2,1171.1 1870.6,1172 1872,1173.4 1873.4,1174.3" fill="none" stroke="#7030a0" stroke-width="1.5" stroke-linejoin="round"/>
<line x1="1899.8" x2="1932.5" y1="1117.7" y2="1117.7" stroke="#7030a0" stroke-width="1.5"/>
<text x="1936.7" y="1122" text-anchor="start" class="lg">Rebar in</text>
<text x="1936.7" y="1138.5" text-anchor="start" class="lg">Beijing-</text>
<text x="1936.7" y="1155.4" text-anchor="start" class="lg">Φ16-Hebei</text>
<text x="1936.7" y="1171.2" text-anchor="start" class="lg">Steel</text>
</svg>
</div>
<script>document.querySelectorAll('span[style*="--w"]').forEach(function(e){var w=parseFloat(e.style.getPropertyValue("--w")),n;e.style.transform="none";n=e.getBoundingClientRect().width;if(w>0&&n>0){e.style.transform="scaleX("+(w/n).toFixed(4)+")";}});</script>
</body></html>
